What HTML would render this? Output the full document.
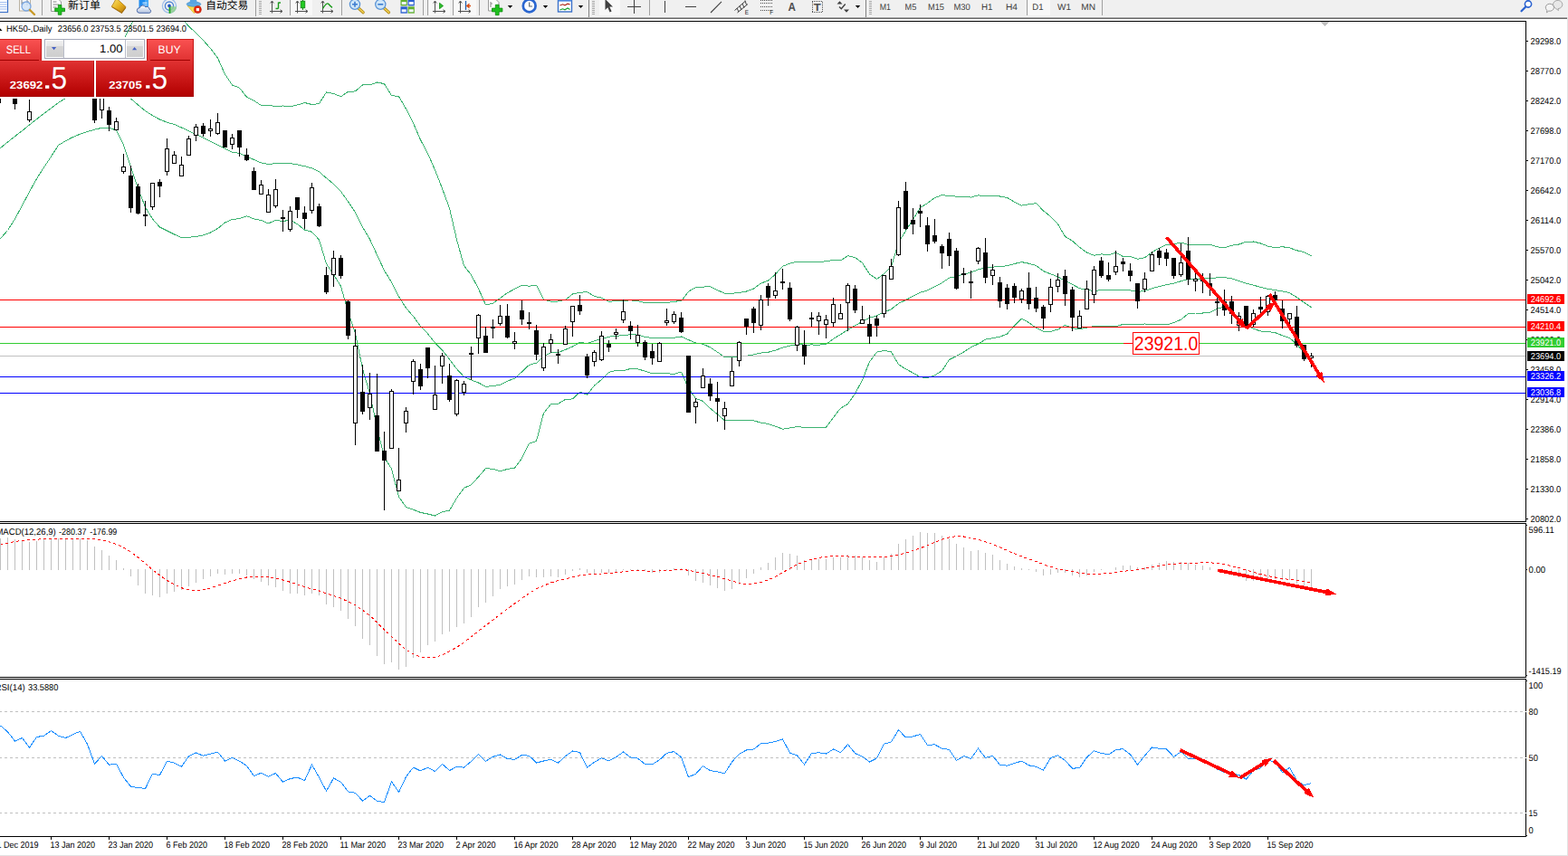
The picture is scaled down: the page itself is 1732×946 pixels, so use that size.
<!DOCTYPE html>
<html><head><meta charset="utf-8"><title>HK50-,Daily</title>
<style>
html,body{margin:0;padding:0;background:#fff;overflow:hidden}
body{width:1732px;height:946px;position:relative;font-family:"Liberation Sans",sans-serif}
svg text{font-family:"Liberation Sans",sans-serif}
</style></head><body>
<svg width="1732" height="946" viewBox="0 0 1732 946" style="position:absolute;left:0;top:0" font-family="Liberation Sans, sans-serif" text-rendering="geometricPrecision">
<defs>
<clipPath id="cm"><rect x="0" y="24" width="1685" height="552"/></clipPath>
<clipPath id="cd"><rect x="0" y="579" width="1685" height="169"/></clipPath>
<clipPath id="cr"><rect x="0" y="751" width="1685" height="173"/></clipPath>
</defs>
<g shape-rendering="crispEdges">
<g clip-path="url(#cm)">
<polyline points="0.5,63.0 8.5,60.0 16.5,58.0 24.5,60.0 32.5,62.0 40.5,64.0 48.5,66.0 56.5,66.0 64.5,66.0 72.5,62.0 80.5,58.0 88.5,55.0 96.5,53.0 104.5,54.0 112.5,56.0 120.5,58.0 128.5,58.0 136.5,44.5 144.5,28.0 152.5,12.0 160.5,5.0 168.5,3.0 176.5,3.0 184.5,5.0 192.5,8.0 200.5,20.0 208.5,29.0 216.5,36.5 224.5,44.5 232.5,53.5 240.5,64.0 248.5,82.0 256.5,94.0 264.5,97.1 272.5,107.2 280.5,111.1 288.5,116.5 296.5,116.2 304.5,117.7 312.5,117.0 320.5,117.7 328.5,116.0 336.5,113.5 344.5,115.5 352.5,114.6 360.5,102.0 368.5,103.4 376.5,106.8 384.5,101.4 392.5,100.9 400.5,93.9 408.5,93.8 416.5,91.0 424.5,92.6 432.5,105.6 440.5,106.6 448.5,120.3 456.5,135.9 464.5,154.6 472.5,169.6 480.5,187.8 488.5,208.4 496.5,230.0 504.5,264.9 512.5,293.5 520.5,303.9 528.5,319.0 536.5,336.9 544.5,335.3 552.5,329.4 560.5,323.7 568.5,319.3 576.5,315.3 584.5,316.2 592.5,315.1 600.5,331.1 608.5,333.2 616.5,333.0 624.5,331.4 632.5,325.0 640.5,323.4 648.5,322.6 656.5,327.4 664.5,329.2 672.5,333.1 680.5,332.9 688.5,332.2 696.5,331.9 704.5,332.5 712.5,334.6 720.5,334.4 728.5,334.4 736.5,334.6 744.5,333.2 752.5,332.7 760.5,322.1 768.5,317.7 776.5,317.1 784.5,316.6 792.5,320.6 800.5,324.3 808.5,324.3 816.5,323.4 824.5,322.0 832.5,319.0 840.5,313.1 848.5,310.2 856.5,303.1 864.5,294.2 872.5,291.2 880.5,289.2 888.5,289.8 896.5,289.7 904.5,289.9 912.5,288.6 920.5,287.5 928.5,288.0 936.5,282.6 944.5,284.6 952.5,290.5 960.5,302.9 968.5,308.4 976.5,302.7 984.5,294.7 992.5,268.0 1000.5,255.1 1008.5,242.7 1016.5,229.4 1024.5,224.5 1032.5,218.6 1040.5,215.5 1048.5,216.6 1056.5,217.1 1064.5,217.1 1072.5,218.1 1080.5,215.8 1088.5,216.7 1096.5,216.4 1104.5,217.0 1112.5,218.4 1120.5,223.2 1128.5,227.1 1136.5,225.7 1144.5,224.6 1152.5,232.9 1160.5,239.3 1168.5,247.7 1176.5,261.4 1184.5,266.2 1192.5,273.4 1200.5,279.1 1208.5,282.3 1216.5,280.9 1224.5,281.7 1232.5,279.3 1240.5,283.5 1248.5,283.4 1256.5,286.2 1264.5,284.8 1272.5,278.8 1280.5,274.2 1288.5,270.4 1296.5,269.8 1304.5,268.1 1312.5,270.3 1320.5,270.1 1328.5,270.1 1336.5,270.3 1344.5,272.7 1352.5,274.0 1360.5,271.3 1368.5,270.0 1376.5,267.3 1384.5,267.0 1392.5,269.0 1400.5,272.1 1408.5,273.7 1416.5,272.7 1424.5,273.9 1432.5,276.8 1440.5,278.6 1448.5,283.0" fill="none" stroke="#3cb371" stroke-width="1" />
<polyline points="0.5,163.5 8.5,157.0 16.5,150.7 24.5,144.5 32.5,138.0 40.5,131.7 48.5,125.5 56.5,119.5 64.5,113.5 72.5,108.5 80.5,104.0 88.5,101.0 96.5,99.0 104.5,99.0 112.5,99.0 120.5,100.0 128.5,101.0 136.5,104.5 144.5,109.0 152.5,116.0 160.5,122.5 168.5,127.7 176.5,132.0 184.5,135.2 192.5,137.5 200.5,141.0 208.5,144.7 216.5,148.5 224.5,152.2 232.5,156.2 240.5,160.2 248.5,164.2 256.5,168.2 264.5,169.3 272.5,172.9 280.5,176.5 288.5,180.0 296.5,181.6 304.5,180.5 312.5,180.8 320.5,180.5 328.5,181.9 336.5,183.7 344.5,185.9 352.5,189.8 360.5,196.8 368.5,203.4 376.5,211.6 384.5,222.8 392.5,234.8 400.5,250.8 408.5,264.4 416.5,281.7 424.5,299.0 432.5,311.8 440.5,327.8 448.5,340.4 456.5,349.6 464.5,360.5 472.5,368.8 480.5,378.9 488.5,387.0 496.5,397.0 504.5,407.7 512.5,416.4 520.5,419.9 528.5,423.0 536.5,427.2 544.5,426.8 552.5,425.1 560.5,421.1 568.5,418.2 576.5,410.9 584.5,403.3 592.5,401.2 600.5,393.9 608.5,389.9 616.5,389.6 624.5,386.4 632.5,383.0 640.5,378.4 648.5,379.4 656.5,376.8 664.5,374.3 672.5,372.3 680.5,371.1 688.5,370.9 696.5,369.7 704.5,370.1 712.5,372.4 720.5,373.5 728.5,373.6 736.5,373.7 744.5,373.2 752.5,372.0 760.5,375.6 768.5,379.0 776.5,380.2 784.5,383.9 792.5,389.2 800.5,394.6 808.5,394.4 816.5,393.8 824.5,393.3 832.5,391.9 840.5,390.1 848.5,389.3 856.5,387.1 864.5,384.2 872.5,382.1 880.5,380.4 888.5,381.1 896.5,381.0 904.5,381.1 912.5,380.4 920.5,374.5 928.5,369.6 936.5,364.5 944.5,359.8 952.5,355.3 960.5,351.3 968.5,348.8 976.5,345.1 984.5,341.7 992.5,335.4 1000.5,331.5 1008.5,327.4 1016.5,323.1 1024.5,321.0 1032.5,316.7 1040.5,312.6 1048.5,307.1 1056.5,305.4 1064.5,303.1 1072.5,301.0 1080.5,297.9 1088.5,295.9 1096.5,295.1 1104.5,294.6 1112.5,293.7 1120.5,291.5 1128.5,289.6 1136.5,291.2 1144.5,293.5 1152.5,299.6 1160.5,302.8 1168.5,305.9 1176.5,310.4 1184.5,314.4 1192.5,318.6 1200.5,320.6 1208.5,321.4 1216.5,320.7 1224.5,321.0 1232.5,320.1 1240.5,321.0 1248.5,320.9 1256.5,322.6 1264.5,321.4 1272.5,318.7 1280.5,316.5 1288.5,314.7 1296.5,313.2 1304.5,310.7 1312.5,308.5 1320.5,308.0 1328.5,308.1 1336.5,307.7 1344.5,306.9 1352.5,306.6 1360.5,307.9 1368.5,310.5 1376.5,313.3 1384.5,315.1 1392.5,317.5 1400.5,319.3 1408.5,320.6 1416.5,321.8 1424.5,323.7 1432.5,328.7 1440.5,334.3 1448.5,339.7" fill="none" stroke="#3cb371" stroke-width="1" />
<polyline points="0.5,263.7 8.5,254.5 16.5,242.0 24.5,227.0 32.5,212.0 40.5,197.5 48.5,185.0 56.5,173.0 64.5,160.5 72.5,155.7 80.5,151.5 88.5,148.2 96.5,145.5 104.5,143.2 112.5,141.3 120.5,141.3 128.5,144.0 136.5,160.0 144.5,184.5 152.5,208.0 160.5,229.0 168.5,242.0 176.5,251.0 184.5,255.0 192.5,259.0 200.5,262.5 208.5,262.3 216.5,261.5 224.5,260.0 232.5,257.0 240.5,252.5 248.5,246.0 256.5,242.5 264.5,241.6 272.5,238.7 280.5,242.0 288.5,243.5 296.5,246.9 304.5,243.4 312.5,244.5 320.5,243.2 328.5,247.8 336.5,254.0 344.5,256.3 352.5,265.0 360.5,291.5 368.5,303.4 376.5,316.4 384.5,344.1 392.5,368.7 400.5,407.6 408.5,434.9 416.5,472.4 424.5,505.4 432.5,518.0 440.5,549.0 448.5,560.4 456.5,563.2 464.5,566.4 472.5,568.0 480.5,570.0 488.5,565.7 496.5,564.1 504.5,550.4 512.5,539.4 520.5,535.8 528.5,527.0 536.5,517.6 544.5,518.3 552.5,520.9 560.5,518.4 568.5,517.1 576.5,506.4 584.5,490.3 592.5,487.4 600.5,456.7 608.5,446.7 616.5,446.2 624.5,441.4 632.5,440.9 640.5,433.3 648.5,436.2 656.5,426.1 664.5,419.4 672.5,411.4 680.5,409.3 688.5,409.6 696.5,407.5 704.5,407.8 712.5,410.2 720.5,412.7 728.5,412.8 736.5,412.8 744.5,413.3 752.5,411.2 760.5,429.1 768.5,440.4 776.5,443.4 784.5,451.2 792.5,457.8 800.5,464.9 808.5,464.5 816.5,464.3 824.5,464.6 832.5,464.9 840.5,467.1 848.5,468.4 856.5,471.1 864.5,474.2 872.5,473.0 880.5,471.5 888.5,472.4 896.5,472.4 904.5,472.4 912.5,472.3 920.5,461.4 928.5,451.1 936.5,446.5 944.5,435.0 952.5,420.0 960.5,399.7 968.5,389.1 976.5,387.4 984.5,388.8 992.5,402.8 1000.5,407.8 1008.5,412.1 1016.5,416.8 1024.5,417.5 1032.5,414.8 1040.5,409.8 1048.5,397.5 1056.5,393.6 1064.5,389.0 1072.5,383.9 1080.5,380.0 1088.5,375.1 1096.5,373.8 1104.5,372.2 1112.5,369.0 1120.5,359.9 1128.5,352.1 1136.5,356.6 1144.5,362.4 1152.5,366.3 1160.5,366.3 1168.5,364.2 1176.5,359.3 1184.5,362.6 1192.5,363.8 1200.5,362.1 1208.5,360.5 1216.5,360.4 1224.5,360.3 1232.5,360.9 1240.5,358.4 1248.5,358.4 1256.5,359.0 1264.5,358.0 1272.5,358.6 1280.5,358.8 1288.5,359.0 1296.5,356.6 1304.5,353.2 1312.5,346.7 1320.5,346.0 1328.5,346.0 1336.5,345.2 1344.5,341.1 1352.5,339.1 1360.5,344.4 1368.5,350.9 1376.5,359.3 1384.5,363.3 1392.5,366.0 1400.5,366.5 1408.5,367.6 1416.5,370.8 1424.5,373.4 1432.5,380.5 1440.5,390.0 1448.5,396.3" fill="none" stroke="#3cb371" stroke-width="1" />
<rect x="0" y="331" width="1685" height="1" fill="#ff0000"/>
<rect x="0" y="361" width="1685" height="1" fill="#ff0000"/>
<rect x="0" y="379" width="1685" height="1" fill="#32cd32"/>
<rect x="0" y="393" width="1685" height="1" fill="#c0c0c0"/>
<rect x="0" y="416" width="1685" height="1" fill="#0000ff"/>
<rect x="0" y="434" width="1685" height="1" fill="#0000ff"/>
<rect x="0" y="96" width="1" height="18" fill="#000"/>
<rect x="16" y="100" width="1" height="21" fill="#000"/>
<rect x="14" y="105" width="5" height="10" fill="#000"/>
<rect x="32" y="110" width="1" height="25" fill="#000"/>
<rect x="30" y="123" width="5" height="10" fill="#000"/>
<rect x="31" y="124" width="3" height="8" fill="#fff"/>
<rect x="104" y="96" width="1" height="40" fill="#000"/>
<rect x="102" y="100" width="5" height="33" fill="#000"/>
<rect x="112" y="100" width="1" height="31" fill="#000"/>
<rect x="110" y="104" width="5" height="18" fill="#000"/>
<rect x="111" y="105" width="3" height="16" fill="#fff"/>
<rect x="120" y="118" width="1" height="27" fill="#000"/>
<rect x="118" y="122" width="5" height="16" fill="#000"/>
<rect x="128" y="130" width="1" height="14" fill="#000"/>
<rect x="126" y="134" width="5" height="10" fill="#000"/>
<rect x="127" y="135" width="3" height="8" fill="#fff"/>
<rect x="136" y="170" width="1" height="22" fill="#000"/>
<rect x="134" y="184" width="5" height="6" fill="#000"/>
<rect x="135" y="185" width="3" height="4" fill="#fff"/>
<rect x="144" y="183" width="1" height="52" fill="#000"/>
<rect x="142" y="194" width="5" height="36" fill="#000"/>
<rect x="152" y="203" width="1" height="34" fill="#000"/>
<rect x="150" y="206" width="5" height="30" fill="#000"/>
<rect x="160" y="222" width="1" height="28" fill="#000"/>
<rect x="158" y="237" width="5" height="2" fill="#000"/>
<rect x="168" y="202" width="1" height="30" fill="#000"/>
<rect x="166" y="202" width="5" height="27" fill="#000"/>
<rect x="167" y="203" width="3" height="25" fill="#fff"/>
<rect x="176" y="198" width="1" height="20" fill="#000"/>
<rect x="174" y="201" width="5" height="5" fill="#000"/>
<rect x="184" y="153" width="1" height="41" fill="#000"/>
<rect x="182" y="164" width="5" height="26" fill="#000"/>
<rect x="183" y="165" width="3" height="24" fill="#fff"/>
<rect x="192" y="167" width="1" height="14" fill="#000"/>
<rect x="190" y="171" width="5" height="10" fill="#000"/>
<rect x="191" y="172" width="3" height="8" fill="#fff"/>
<rect x="200" y="173" width="1" height="21" fill="#000"/>
<rect x="198" y="182" width="5" height="13" fill="#000"/>
<rect x="199" y="183" width="3" height="11" fill="#fff"/>
<rect x="208" y="150" width="1" height="21" fill="#000"/>
<rect x="206" y="153" width="5" height="19" fill="#000"/>
<rect x="207" y="154" width="3" height="17" fill="#fff"/>
<rect x="216" y="137" width="1" height="19" fill="#000"/>
<rect x="214" y="140" width="5" height="10" fill="#000"/>
<rect x="215" y="141" width="3" height="8" fill="#fff"/>
<rect x="224" y="136" width="1" height="15" fill="#000"/>
<rect x="222" y="139" width="5" height="9" fill="#000"/>
<rect x="232" y="132" width="1" height="19" fill="#000"/>
<rect x="230" y="142" width="5" height="3" fill="#000"/>
<rect x="231" y="143" width="3" height="1" fill="#fff"/>
<rect x="240" y="125" width="1" height="24" fill="#000"/>
<rect x="238" y="135" width="5" height="13" fill="#000"/>
<rect x="239" y="136" width="3" height="11" fill="#fff"/>
<rect x="248" y="144" width="1" height="19" fill="#000"/>
<rect x="246" y="144" width="5" height="19" fill="#000"/>
<rect x="256" y="148" width="1" height="17" fill="#000"/>
<rect x="254" y="152" width="5" height="8" fill="#000"/>
<rect x="255" y="153" width="3" height="6" fill="#fff"/>
<rect x="264" y="144" width="1" height="29" fill="#000"/>
<rect x="262" y="144" width="5" height="19" fill="#000"/>
<rect x="272" y="164" width="1" height="14" fill="#000"/>
<rect x="270" y="171" width="5" height="6" fill="#000"/>
<rect x="280" y="185" width="1" height="25" fill="#000"/>
<rect x="278" y="189" width="5" height="21" fill="#000"/>
<rect x="288" y="199" width="1" height="15" fill="#000"/>
<rect x="286" y="204" width="5" height="11" fill="#000"/>
<rect x="287" y="205" width="3" height="9" fill="#fff"/>
<rect x="296" y="209" width="1" height="25" fill="#000"/>
<rect x="294" y="215" width="5" height="20" fill="#000"/>
<rect x="295" y="216" width="3" height="18" fill="#fff"/>
<rect x="304" y="198" width="1" height="32" fill="#000"/>
<rect x="302" y="209" width="5" height="19" fill="#000"/>
<rect x="303" y="210" width="3" height="17" fill="#fff"/>
<rect x="312" y="232" width="1" height="24" fill="#000"/>
<rect x="310" y="240" width="5" height="2" fill="#000"/>
<rect x="320" y="228" width="1" height="28" fill="#000"/>
<rect x="318" y="233" width="5" height="21" fill="#000"/>
<rect x="319" y="234" width="3" height="19" fill="#fff"/>
<rect x="328" y="218" width="1" height="23" fill="#000"/>
<rect x="326" y="218" width="5" height="14" fill="#000"/>
<rect x="336" y="228" width="1" height="25" fill="#000"/>
<rect x="334" y="235" width="5" height="7" fill="#000"/>
<rect x="344" y="202" width="1" height="34" fill="#000"/>
<rect x="342" y="207" width="5" height="26" fill="#000"/>
<rect x="343" y="208" width="3" height="24" fill="#fff"/>
<rect x="352" y="225" width="1" height="26" fill="#000"/>
<rect x="350" y="228" width="5" height="22" fill="#000"/>
<rect x="360" y="295" width="1" height="30" fill="#000"/>
<rect x="358" y="304" width="5" height="19" fill="#000"/>
<rect x="368" y="277" width="1" height="40" fill="#000"/>
<rect x="366" y="285" width="5" height="19" fill="#000"/>
<rect x="367" y="286" width="3" height="17" fill="#fff"/>
<rect x="376" y="282" width="1" height="26" fill="#000"/>
<rect x="374" y="285" width="5" height="20" fill="#000"/>
<rect x="384" y="332" width="1" height="43" fill="#000"/>
<rect x="382" y="333" width="5" height="38" fill="#000"/>
<rect x="392" y="364" width="1" height="128" fill="#000"/>
<rect x="390" y="382" width="5" height="86" fill="#000"/>
<rect x="391" y="383" width="3" height="84" fill="#fff"/>
<rect x="400" y="403" width="1" height="55" fill="#000"/>
<rect x="398" y="433" width="5" height="22" fill="#000"/>
<rect x="408" y="412" width="1" height="52" fill="#000"/>
<rect x="406" y="435" width="5" height="16" fill="#000"/>
<rect x="407" y="436" width="3" height="14" fill="#fff"/>
<rect x="416" y="413" width="1" height="86" fill="#000"/>
<rect x="414" y="459" width="5" height="40" fill="#000"/>
<rect x="424" y="477" width="1" height="87" fill="#000"/>
<rect x="422" y="498" width="5" height="11" fill="#000"/>
<rect x="432" y="430" width="1" height="66" fill="#000"/>
<rect x="430" y="432" width="5" height="64" fill="#000"/>
<rect x="431" y="433" width="3" height="62" fill="#fff"/>
<rect x="440" y="495" width="1" height="48" fill="#000"/>
<rect x="438" y="530" width="5" height="13" fill="#000"/>
<rect x="439" y="531" width="3" height="11" fill="#fff"/>
<rect x="448" y="450" width="1" height="28" fill="#000"/>
<rect x="446" y="454" width="5" height="14" fill="#000"/>
<rect x="447" y="455" width="3" height="12" fill="#fff"/>
<rect x="456" y="397" width="1" height="39" fill="#000"/>
<rect x="454" y="399" width="5" height="23" fill="#000"/>
<rect x="455" y="400" width="3" height="21" fill="#fff"/>
<rect x="464" y="402" width="1" height="29" fill="#000"/>
<rect x="462" y="408" width="5" height="19" fill="#000"/>
<rect x="472" y="384" width="1" height="34" fill="#000"/>
<rect x="470" y="384" width="5" height="23" fill="#000"/>
<rect x="480" y="404" width="1" height="49" fill="#000"/>
<rect x="478" y="436" width="5" height="17" fill="#000"/>
<rect x="479" y="437" width="3" height="15" fill="#fff"/>
<rect x="488" y="390" width="1" height="34" fill="#000"/>
<rect x="486" y="393" width="5" height="12" fill="#000"/>
<rect x="487" y="394" width="3" height="10" fill="#fff"/>
<rect x="496" y="402" width="1" height="42" fill="#000"/>
<rect x="494" y="415" width="5" height="27" fill="#000"/>
<rect x="504" y="419" width="1" height="41" fill="#000"/>
<rect x="502" y="420" width="5" height="38" fill="#000"/>
<rect x="503" y="421" width="3" height="36" fill="#fff"/>
<rect x="512" y="421" width="1" height="16" fill="#000"/>
<rect x="510" y="424" width="5" height="10" fill="#000"/>
<rect x="511" y="425" width="3" height="8" fill="#fff"/>
<rect x="520" y="383" width="1" height="37" fill="#000"/>
<rect x="518" y="390" width="5" height="2" fill="#000"/>
<rect x="528" y="347" width="1" height="44" fill="#000"/>
<rect x="526" y="348" width="5" height="26" fill="#000"/>
<rect x="527" y="349" width="3" height="24" fill="#fff"/>
<rect x="536" y="361" width="1" height="29" fill="#000"/>
<rect x="534" y="371" width="5" height="19" fill="#000"/>
<rect x="544" y="353" width="1" height="21" fill="#000"/>
<rect x="542" y="361" width="5" height="2" fill="#000"/>
<rect x="552" y="337" width="1" height="23" fill="#000"/>
<rect x="550" y="349" width="5" height="9" fill="#000"/>
<rect x="551" y="350" width="3" height="7" fill="#fff"/>
<rect x="560" y="336" width="1" height="38" fill="#000"/>
<rect x="558" y="349" width="5" height="24" fill="#000"/>
<rect x="568" y="367" width="1" height="19" fill="#000"/>
<rect x="566" y="377" width="5" height="3" fill="#000"/>
<rect x="567" y="378" width="3" height="1" fill="#fff"/>
<rect x="576" y="332" width="1" height="27" fill="#000"/>
<rect x="574" y="343" width="5" height="10" fill="#000"/>
<rect x="584" y="345" width="1" height="19" fill="#000"/>
<rect x="582" y="356" width="5" height="2" fill="#000"/>
<rect x="592" y="359" width="1" height="39" fill="#000"/>
<rect x="590" y="365" width="5" height="27" fill="#000"/>
<rect x="600" y="379" width="1" height="31" fill="#000"/>
<rect x="598" y="383" width="5" height="24" fill="#000"/>
<rect x="599" y="384" width="3" height="22" fill="#fff"/>
<rect x="608" y="369" width="1" height="21" fill="#000"/>
<rect x="606" y="375" width="5" height="5" fill="#000"/>
<rect x="607" y="376" width="3" height="3" fill="#fff"/>
<rect x="616" y="386" width="1" height="16" fill="#000"/>
<rect x="614" y="391" width="5" height="2" fill="#000"/>
<rect x="624" y="360" width="1" height="21" fill="#000"/>
<rect x="622" y="363" width="5" height="18" fill="#000"/>
<rect x="623" y="364" width="3" height="16" fill="#fff"/>
<rect x="632" y="338" width="1" height="34" fill="#000"/>
<rect x="630" y="338" width="5" height="18" fill="#000"/>
<rect x="631" y="339" width="3" height="16" fill="#fff"/>
<rect x="640" y="326" width="1" height="22" fill="#000"/>
<rect x="638" y="337" width="5" height="7" fill="#000"/>
<rect x="648" y="391" width="1" height="27" fill="#000"/>
<rect x="646" y="394" width="5" height="21" fill="#000"/>
<rect x="656" y="387" width="1" height="18" fill="#000"/>
<rect x="654" y="389" width="5" height="11" fill="#000"/>
<rect x="655" y="390" width="3" height="9" fill="#fff"/>
<rect x="664" y="366" width="1" height="33" fill="#000"/>
<rect x="662" y="371" width="5" height="27" fill="#000"/>
<rect x="663" y="372" width="3" height="25" fill="#fff"/>
<rect x="672" y="376" width="1" height="13" fill="#000"/>
<rect x="670" y="380" width="5" height="4" fill="#000"/>
<rect x="680" y="363" width="1" height="12" fill="#000"/>
<rect x="678" y="367" width="5" height="3" fill="#000"/>
<rect x="679" y="368" width="3" height="1" fill="#fff"/>
<rect x="688" y="331" width="1" height="26" fill="#000"/>
<rect x="686" y="344" width="5" height="10" fill="#000"/>
<rect x="687" y="345" width="3" height="8" fill="#fff"/>
<rect x="696" y="355" width="1" height="20" fill="#000"/>
<rect x="694" y="360" width="5" height="6" fill="#000"/>
<rect x="704" y="359" width="1" height="24" fill="#000"/>
<rect x="702" y="370" width="5" height="9" fill="#000"/>
<rect x="703" y="371" width="3" height="7" fill="#fff"/>
<rect x="712" y="376" width="1" height="22" fill="#000"/>
<rect x="710" y="378" width="5" height="17" fill="#000"/>
<rect x="720" y="380" width="1" height="23" fill="#000"/>
<rect x="718" y="388" width="5" height="8" fill="#000"/>
<rect x="728" y="378" width="1" height="21" fill="#000"/>
<rect x="726" y="379" width="5" height="21" fill="#000"/>
<rect x="727" y="380" width="3" height="19" fill="#fff"/>
<rect x="736" y="341" width="1" height="19" fill="#000"/>
<rect x="734" y="354" width="5" height="3" fill="#000"/>
<rect x="735" y="355" width="3" height="1" fill="#fff"/>
<rect x="744" y="344" width="1" height="14" fill="#000"/>
<rect x="742" y="347" width="5" height="9" fill="#000"/>
<rect x="743" y="348" width="3" height="7" fill="#fff"/>
<rect x="752" y="345" width="1" height="23" fill="#000"/>
<rect x="750" y="351" width="5" height="16" fill="#000"/>
<rect x="760" y="393" width="1" height="63" fill="#000"/>
<rect x="758" y="393" width="5" height="63" fill="#000"/>
<rect x="768" y="440" width="1" height="28" fill="#000"/>
<rect x="766" y="444" width="5" height="6" fill="#000"/>
<rect x="767" y="445" width="3" height="4" fill="#fff"/>
<rect x="776" y="407" width="1" height="21" fill="#000"/>
<rect x="774" y="415" width="5" height="14" fill="#000"/>
<rect x="775" y="416" width="3" height="12" fill="#fff"/>
<rect x="784" y="418" width="1" height="25" fill="#000"/>
<rect x="782" y="424" width="5" height="14" fill="#000"/>
<rect x="792" y="422" width="1" height="44" fill="#000"/>
<rect x="790" y="440" width="5" height="4" fill="#000"/>
<rect x="800" y="444" width="1" height="31" fill="#000"/>
<rect x="798" y="451" width="5" height="9" fill="#000"/>
<rect x="799" y="452" width="3" height="7" fill="#fff"/>
<rect x="808" y="395" width="1" height="31" fill="#000"/>
<rect x="806" y="410" width="5" height="17" fill="#000"/>
<rect x="807" y="411" width="3" height="15" fill="#fff"/>
<rect x="816" y="377" width="1" height="28" fill="#000"/>
<rect x="814" y="378" width="5" height="21" fill="#000"/>
<rect x="815" y="379" width="3" height="19" fill="#fff"/>
<rect x="824" y="352" width="1" height="18" fill="#000"/>
<rect x="822" y="352" width="5" height="9" fill="#000"/>
<rect x="832" y="339" width="1" height="29" fill="#000"/>
<rect x="830" y="341" width="5" height="16" fill="#000"/>
<rect x="840" y="326" width="1" height="39" fill="#000"/>
<rect x="838" y="331" width="5" height="29" fill="#000"/>
<rect x="839" y="332" width="3" height="27" fill="#fff"/>
<rect x="848" y="313" width="1" height="25" fill="#000"/>
<rect x="846" y="316" width="5" height="13" fill="#000"/>
<rect x="856" y="301" width="1" height="29" fill="#000"/>
<rect x="854" y="321" width="5" height="6" fill="#000"/>
<rect x="855" y="322" width="3" height="4" fill="#fff"/>
<rect x="864" y="297" width="1" height="23" fill="#000"/>
<rect x="862" y="311" width="5" height="2" fill="#000"/>
<rect x="872" y="312" width="1" height="43" fill="#000"/>
<rect x="870" y="318" width="5" height="35" fill="#000"/>
<rect x="880" y="360" width="1" height="28" fill="#000"/>
<rect x="878" y="361" width="5" height="21" fill="#000"/>
<rect x="879" y="362" width="3" height="19" fill="#fff"/>
<rect x="888" y="365" width="1" height="38" fill="#000"/>
<rect x="886" y="381" width="5" height="13" fill="#000"/>
<rect x="896" y="345" width="1" height="16" fill="#000"/>
<rect x="894" y="351" width="5" height="2" fill="#000"/>
<rect x="904" y="345" width="1" height="25" fill="#000"/>
<rect x="902" y="349" width="5" height="6" fill="#000"/>
<rect x="903" y="350" width="3" height="4" fill="#fff"/>
<rect x="912" y="348" width="1" height="26" fill="#000"/>
<rect x="910" y="353" width="5" height="6" fill="#000"/>
<rect x="911" y="354" width="3" height="4" fill="#fff"/>
<rect x="920" y="329" width="1" height="32" fill="#000"/>
<rect x="918" y="336" width="5" height="21" fill="#000"/>
<rect x="919" y="337" width="3" height="19" fill="#fff"/>
<rect x="928" y="336" width="1" height="17" fill="#000"/>
<rect x="926" y="346" width="5" height="7" fill="#000"/>
<rect x="927" y="347" width="3" height="5" fill="#fff"/>
<rect x="936" y="313" width="1" height="53" fill="#000"/>
<rect x="934" y="315" width="5" height="20" fill="#000"/>
<rect x="935" y="316" width="3" height="18" fill="#fff"/>
<rect x="944" y="315" width="1" height="31" fill="#000"/>
<rect x="942" y="319" width="5" height="24" fill="#000"/>
<rect x="952" y="338" width="1" height="20" fill="#000"/>
<rect x="950" y="353" width="5" height="5" fill="#000"/>
<rect x="951" y="354" width="3" height="3" fill="#fff"/>
<rect x="960" y="348" width="1" height="32" fill="#000"/>
<rect x="958" y="358" width="5" height="14" fill="#000"/>
<rect x="968" y="349" width="1" height="23" fill="#000"/>
<rect x="966" y="352" width="5" height="8" fill="#000"/>
<rect x="976" y="304" width="1" height="47" fill="#000"/>
<rect x="974" y="304" width="5" height="43" fill="#000"/>
<rect x="975" y="305" width="3" height="41" fill="#fff"/>
<rect x="984" y="286" width="1" height="22" fill="#000"/>
<rect x="982" y="294" width="5" height="15" fill="#000"/>
<rect x="983" y="295" width="3" height="13" fill="#fff"/>
<rect x="992" y="222" width="1" height="61" fill="#000"/>
<rect x="990" y="229" width="5" height="53" fill="#000"/>
<rect x="991" y="230" width="3" height="51" fill="#fff"/>
<rect x="1000" y="201" width="1" height="53" fill="#000"/>
<rect x="998" y="211" width="5" height="42" fill="#000"/>
<rect x="1008" y="230" width="1" height="29" fill="#000"/>
<rect x="1006" y="243" width="5" height="5" fill="#000"/>
<rect x="1016" y="226" width="1" height="25" fill="#000"/>
<rect x="1014" y="233" width="5" height="3" fill="#000"/>
<rect x="1024" y="240" width="1" height="38" fill="#000"/>
<rect x="1022" y="249" width="5" height="21" fill="#000"/>
<rect x="1032" y="242" width="1" height="27" fill="#000"/>
<rect x="1030" y="260" width="5" height="7" fill="#000"/>
<rect x="1040" y="270" width="1" height="27" fill="#000"/>
<rect x="1038" y="272" width="5" height="8" fill="#000"/>
<rect x="1048" y="257" width="1" height="37" fill="#000"/>
<rect x="1046" y="264" width="5" height="19" fill="#000"/>
<rect x="1056" y="274" width="1" height="46" fill="#000"/>
<rect x="1054" y="277" width="5" height="42" fill="#000"/>
<rect x="1064" y="296" width="1" height="17" fill="#000"/>
<rect x="1062" y="302" width="5" height="2" fill="#000"/>
<rect x="1072" y="299" width="1" height="31" fill="#000"/>
<rect x="1070" y="311" width="5" height="2" fill="#000"/>
<rect x="1080" y="273" width="1" height="19" fill="#000"/>
<rect x="1078" y="274" width="5" height="15" fill="#000"/>
<rect x="1079" y="275" width="3" height="13" fill="#fff"/>
<rect x="1088" y="263" width="1" height="50" fill="#000"/>
<rect x="1086" y="279" width="5" height="28" fill="#000"/>
<rect x="1096" y="292" width="1" height="23" fill="#000"/>
<rect x="1094" y="298" width="5" height="7" fill="#000"/>
<rect x="1095" y="299" width="3" height="5" fill="#fff"/>
<rect x="1104" y="306" width="1" height="34" fill="#000"/>
<rect x="1102" y="312" width="5" height="21" fill="#000"/>
<rect x="1112" y="314" width="1" height="28" fill="#000"/>
<rect x="1110" y="318" width="5" height="18" fill="#000"/>
<rect x="1120" y="313" width="1" height="22" fill="#000"/>
<rect x="1118" y="316" width="5" height="13" fill="#000"/>
<rect x="1128" y="319" width="1" height="16" fill="#000"/>
<rect x="1126" y="321" width="5" height="10" fill="#000"/>
<rect x="1127" y="322" width="3" height="8" fill="#fff"/>
<rect x="1136" y="301" width="1" height="41" fill="#000"/>
<rect x="1134" y="318" width="5" height="18" fill="#000"/>
<rect x="1144" y="317" width="1" height="28" fill="#000"/>
<rect x="1142" y="329" width="5" height="12" fill="#000"/>
<rect x="1152" y="337" width="1" height="27" fill="#000"/>
<rect x="1150" y="339" width="5" height="13" fill="#000"/>
<rect x="1160" y="308" width="1" height="37" fill="#000"/>
<rect x="1158" y="317" width="5" height="20" fill="#000"/>
<rect x="1159" y="318" width="3" height="18" fill="#fff"/>
<rect x="1168" y="302" width="1" height="21" fill="#000"/>
<rect x="1166" y="309" width="5" height="8" fill="#000"/>
<rect x="1167" y="310" width="3" height="6" fill="#fff"/>
<rect x="1176" y="298" width="1" height="40" fill="#000"/>
<rect x="1174" y="305" width="5" height="20" fill="#000"/>
<rect x="1184" y="317" width="1" height="49" fill="#000"/>
<rect x="1182" y="320" width="5" height="31" fill="#000"/>
<rect x="1192" y="343" width="1" height="20" fill="#000"/>
<rect x="1190" y="349" width="5" height="14" fill="#000"/>
<rect x="1191" y="350" width="3" height="12" fill="#fff"/>
<rect x="1200" y="310" width="1" height="31" fill="#000"/>
<rect x="1198" y="319" width="5" height="23" fill="#000"/>
<rect x="1199" y="320" width="3" height="21" fill="#fff"/>
<rect x="1208" y="294" width="1" height="41" fill="#000"/>
<rect x="1206" y="298" width="5" height="28" fill="#000"/>
<rect x="1207" y="299" width="3" height="26" fill="#fff"/>
<rect x="1216" y="284" width="1" height="23" fill="#000"/>
<rect x="1214" y="288" width="5" height="17" fill="#000"/>
<rect x="1224" y="290" width="1" height="21" fill="#000"/>
<rect x="1222" y="304" width="5" height="5" fill="#000"/>
<rect x="1232" y="277" width="1" height="27" fill="#000"/>
<rect x="1230" y="294" width="5" height="7" fill="#000"/>
<rect x="1231" y="295" width="3" height="5" fill="#fff"/>
<rect x="1240" y="285" width="1" height="15" fill="#000"/>
<rect x="1238" y="289" width="5" height="3" fill="#000"/>
<rect x="1248" y="291" width="1" height="20" fill="#000"/>
<rect x="1246" y="299" width="5" height="6" fill="#000"/>
<rect x="1256" y="313" width="1" height="28" fill="#000"/>
<rect x="1254" y="313" width="5" height="20" fill="#000"/>
<rect x="1264" y="301" width="1" height="22" fill="#000"/>
<rect x="1262" y="308" width="5" height="12" fill="#000"/>
<rect x="1263" y="309" width="3" height="10" fill="#fff"/>
<rect x="1272" y="278" width="1" height="22" fill="#000"/>
<rect x="1270" y="281" width="5" height="19" fill="#000"/>
<rect x="1271" y="282" width="3" height="17" fill="#fff"/>
<rect x="1280" y="274" width="1" height="19" fill="#000"/>
<rect x="1278" y="277" width="5" height="8" fill="#000"/>
<rect x="1288" y="275" width="1" height="19" fill="#000"/>
<rect x="1286" y="279" width="5" height="7" fill="#000"/>
<rect x="1296" y="285" width="1" height="23" fill="#000"/>
<rect x="1294" y="285" width="5" height="20" fill="#000"/>
<rect x="1304" y="269" width="1" height="37" fill="#000"/>
<rect x="1302" y="290" width="5" height="14" fill="#000"/>
<rect x="1303" y="291" width="3" height="12" fill="#fff"/>
<rect x="1312" y="262" width="1" height="53" fill="#000"/>
<rect x="1310" y="277" width="5" height="32" fill="#000"/>
<rect x="1320" y="301" width="1" height="21" fill="#000"/>
<rect x="1318" y="308" width="5" height="3" fill="#000"/>
<rect x="1319" y="309" width="3" height="1" fill="#fff"/>
<rect x="1328" y="302" width="1" height="22" fill="#000"/>
<rect x="1326" y="309" width="5" height="2" fill="#000"/>
<rect x="1336" y="302" width="1" height="25" fill="#000"/>
<rect x="1334" y="313" width="5" height="5" fill="#000"/>
<rect x="1344" y="327" width="1" height="22" fill="#000"/>
<rect x="1342" y="333" width="5" height="2" fill="#000"/>
<rect x="1352" y="320" width="1" height="29" fill="#000"/>
<rect x="1350" y="333" width="5" height="10" fill="#000"/>
<rect x="1360" y="327" width="1" height="31" fill="#000"/>
<rect x="1358" y="333" width="5" height="14" fill="#000"/>
<rect x="1368" y="345" width="1" height="21" fill="#000"/>
<rect x="1366" y="349" width="5" height="11" fill="#000"/>
<rect x="1367" y="350" width="3" height="9" fill="#fff"/>
<rect x="1376" y="338" width="1" height="25" fill="#000"/>
<rect x="1374" y="338" width="5" height="24" fill="#000"/>
<rect x="1384" y="342" width="1" height="19" fill="#000"/>
<rect x="1382" y="346" width="5" height="13" fill="#000"/>
<rect x="1383" y="347" width="3" height="11" fill="#fff"/>
<rect x="1392" y="328" width="1" height="20" fill="#000"/>
<rect x="1390" y="339" width="5" height="3" fill="#000"/>
<rect x="1400" y="326" width="1" height="23" fill="#000"/>
<rect x="1398" y="327" width="5" height="18" fill="#000"/>
<rect x="1399" y="328" width="3" height="16" fill="#fff"/>
<rect x="1408" y="322" width="1" height="11" fill="#000"/>
<rect x="1406" y="326" width="5" height="6" fill="#000"/>
<rect x="1416" y="332" width="1" height="31" fill="#000"/>
<rect x="1414" y="341" width="5" height="14" fill="#000"/>
<rect x="1424" y="346" width="1" height="12" fill="#000"/>
<rect x="1422" y="346" width="5" height="7" fill="#000"/>
<rect x="1423" y="347" width="3" height="5" fill="#fff"/>
<rect x="1432" y="338" width="1" height="46" fill="#000"/>
<rect x="1430" y="350" width="5" height="32" fill="#000"/>
<rect x="1440" y="381" width="1" height="18" fill="#000"/>
<rect x="1438" y="381" width="5" height="16" fill="#000"/>
<rect x="1448" y="390" width="1" height="16" fill="#000"/>
<rect x="1446" y="393" width="5" height="3" fill="#000"/>
<rect x="1447" y="394" width="3" height="1" fill="#fff"/>
</g>
<rect x="1459" y="24" width="9" height="1" fill="#c0c0c0"/>
<rect x="1460" y="25" width="7" height="1" fill="#c0c0c0"/>
<rect x="1461" y="26" width="5" height="1" fill="#c0c0c0"/>
<rect x="1462" y="27" width="3" height="1" fill="#c0c0c0"/>
<rect x="1463" y="28" width="1" height="1" fill="#c0c0c0"/>
<rect x="0" y="23" width="1686" height="1" fill="#000"/>
<rect x="1685" y="23" width="1" height="554" fill="#000"/>
<rect x="0" y="576" width="1686" height="1" fill="#000"/>
<rect x="0" y="578" width="1686" height="1" fill="#000"/>
<rect x="1685" y="578" width="1" height="171" fill="#000"/>
<rect x="0" y="748" width="1686" height="1" fill="#000"/>
<rect x="0" y="750" width="1686" height="1" fill="#000"/>
<rect x="1685" y="750" width="1" height="175" fill="#000"/>
<rect x="0" y="924" width="1686" height="1" fill="#000"/>
</g>
<g shape-rendering="crispEdges">
<rect x="1686" y="45" width="2" height="1" fill="#000"/>
<rect x="1686" y="78" width="2" height="1" fill="#000"/>
<rect x="1686" y="111" width="2" height="1" fill="#000"/>
<rect x="1686" y="144" width="2" height="1" fill="#000"/>
<rect x="1686" y="177" width="2" height="1" fill="#000"/>
<rect x="1686" y="210" width="2" height="1" fill="#000"/>
<rect x="1686" y="243" width="2" height="1" fill="#000"/>
<rect x="1686" y="276" width="2" height="1" fill="#000"/>
<rect x="1686" y="309" width="2" height="1" fill="#000"/>
<rect x="1686" y="342" width="2" height="1" fill="#000"/>
<rect x="1686" y="375" width="2" height="1" fill="#000"/>
<rect x="1686" y="408" width="2" height="1" fill="#000"/>
<rect x="1686" y="441" width="2" height="1" fill="#000"/>
<rect x="1686" y="474" width="2" height="1" fill="#000"/>
<rect x="1686" y="507" width="2" height="1" fill="#000"/>
<rect x="1686" y="540" width="2" height="1" fill="#000"/>
<rect x="1686" y="573" width="2" height="1" fill="#000"/>
</g>
<text x="1690.6" y="49" font-size="10" fill="#000" text-anchor="start" font-weight="normal" textLength="33.6" lengthAdjust="spacingAndGlyphs">29298.0</text>
<text x="1690.6" y="82" font-size="10" fill="#000" text-anchor="start" font-weight="normal" textLength="33.6" lengthAdjust="spacingAndGlyphs">28770.0</text>
<text x="1690.6" y="115" font-size="10" fill="#000" text-anchor="start" font-weight="normal" textLength="33.6" lengthAdjust="spacingAndGlyphs">28242.0</text>
<text x="1690.6" y="148" font-size="10" fill="#000" text-anchor="start" font-weight="normal" textLength="33.6" lengthAdjust="spacingAndGlyphs">27698.0</text>
<text x="1690.6" y="181" font-size="10" fill="#000" text-anchor="start" font-weight="normal" textLength="33.6" lengthAdjust="spacingAndGlyphs">27170.0</text>
<text x="1690.6" y="214" font-size="10" fill="#000" text-anchor="start" font-weight="normal" textLength="33.6" lengthAdjust="spacingAndGlyphs">26642.0</text>
<text x="1690.6" y="247" font-size="10" fill="#000" text-anchor="start" font-weight="normal" textLength="33.6" lengthAdjust="spacingAndGlyphs">26114.0</text>
<text x="1690.6" y="280" font-size="10" fill="#000" text-anchor="start" font-weight="normal" textLength="33.6" lengthAdjust="spacingAndGlyphs">25570.0</text>
<text x="1690.6" y="313" font-size="10" fill="#000" text-anchor="start" font-weight="normal" textLength="33.6" lengthAdjust="spacingAndGlyphs">25042.0</text>
<text x="1690.6" y="346" font-size="10" fill="#000" text-anchor="start" font-weight="normal" textLength="33.6" lengthAdjust="spacingAndGlyphs">24514.0</text>
<text x="1690.6" y="379" font-size="10" fill="#000" text-anchor="start" font-weight="normal" textLength="33.6" lengthAdjust="spacingAndGlyphs">23986.0</text>
<text x="1690.6" y="412" font-size="10" fill="#000" text-anchor="start" font-weight="normal" textLength="33.6" lengthAdjust="spacingAndGlyphs">23458.0</text>
<text x="1690.6" y="445" font-size="10" fill="#000" text-anchor="start" font-weight="normal" textLength="33.6" lengthAdjust="spacingAndGlyphs">22914.0</text>
<text x="1690.6" y="478" font-size="10" fill="#000" text-anchor="start" font-weight="normal" textLength="33.6" lengthAdjust="spacingAndGlyphs">22386.0</text>
<text x="1690.6" y="511" font-size="10" fill="#000" text-anchor="start" font-weight="normal" textLength="33.6" lengthAdjust="spacingAndGlyphs">21858.0</text>
<text x="1690.6" y="544" font-size="10" fill="#000" text-anchor="start" font-weight="normal" textLength="33.6" lengthAdjust="spacingAndGlyphs">21330.0</text>
<text x="1690.6" y="577" font-size="10" fill="#000" text-anchor="start" font-weight="normal" textLength="33.6" lengthAdjust="spacingAndGlyphs">20802.0</text>
<rect x="1687" y="325" width="41" height="11" fill="#ff0000" shape-rendering="crispEdges"/>
<text x="1690.8" y="334" font-size="10" fill="#fff" text-anchor="start" font-weight="normal" textLength="33.4" lengthAdjust="spacingAndGlyphs">24692.6</text>
<rect x="1687" y="355" width="41" height="11" fill="#ff0000" shape-rendering="crispEdges"/>
<text x="1690.8" y="364" font-size="10" fill="#fff" text-anchor="start" font-weight="normal" textLength="33.4" lengthAdjust="spacingAndGlyphs">24210.4</text>
<rect x="1687" y="373" width="41" height="11" fill="#32cd32" shape-rendering="crispEdges"/>
<text x="1690.8" y="382" font-size="10" fill="#fff" text-anchor="start" font-weight="normal" textLength="33.4" lengthAdjust="spacingAndGlyphs">23921.0</text>
<rect x="1687" y="388" width="41" height="11" fill="#000000" shape-rendering="crispEdges"/>
<text x="1690.8" y="397" font-size="10" fill="#fff" text-anchor="start" font-weight="normal" textLength="33.4" lengthAdjust="spacingAndGlyphs">23694.0</text>
<rect x="1687" y="410" width="41" height="11" fill="#0000ff" shape-rendering="crispEdges"/>
<text x="1690.8" y="419" font-size="10" fill="#fff" text-anchor="start" font-weight="normal" textLength="33.4" lengthAdjust="spacingAndGlyphs">23326.2</text>
<rect x="1687" y="428" width="41" height="11" fill="#0000ff" shape-rendering="crispEdges"/>
<text x="1690.8" y="437" font-size="10" fill="#fff" text-anchor="start" font-weight="normal" textLength="33.4" lengthAdjust="spacingAndGlyphs">23036.8</text>
<g shape-rendering="crispEdges">
<g clip-path="url(#cd)">
<rect x="0" y="595" width="1" height="35" fill="#c0c0c0"/>
<rect x="8" y="594" width="1" height="36" fill="#c0c0c0"/>
<rect x="16" y="596" width="1" height="34" fill="#c0c0c0"/>
<rect x="24" y="597" width="1" height="33" fill="#c0c0c0"/>
<rect x="32" y="599" width="1" height="31" fill="#c0c0c0"/>
<rect x="40" y="598" width="1" height="32" fill="#c0c0c0"/>
<rect x="48" y="596" width="1" height="34" fill="#c0c0c0"/>
<rect x="56" y="595" width="1" height="35" fill="#c0c0c0"/>
<rect x="64" y="595" width="1" height="35" fill="#c0c0c0"/>
<rect x="72" y="595" width="1" height="35" fill="#c0c0c0"/>
<rect x="80" y="595" width="1" height="35" fill="#c0c0c0"/>
<rect x="88" y="595" width="1" height="35" fill="#c0c0c0"/>
<rect x="96" y="597" width="1" height="33" fill="#c0c0c0"/>
<rect x="104" y="604" width="1" height="26" fill="#c0c0c0"/>
<rect x="112" y="608" width="1" height="22" fill="#c0c0c0"/>
<rect x="120" y="614" width="1" height="16" fill="#c0c0c0"/>
<rect x="128" y="619" width="1" height="11" fill="#c0c0c0"/>
<rect x="136" y="628" width="1" height="2" fill="#c0c0c0"/>
<rect x="144" y="629" width="1" height="8" fill="#c0c0c0"/>
<rect x="152" y="629" width="1" height="18" fill="#c0c0c0"/>
<rect x="160" y="629" width="1" height="27" fill="#c0c0c0"/>
<rect x="168" y="629" width="1" height="29" fill="#c0c0c0"/>
<rect x="176" y="629" width="1" height="31" fill="#c0c0c0"/>
<rect x="184" y="629" width="1" height="27" fill="#c0c0c0"/>
<rect x="192" y="629" width="1" height="25" fill="#c0c0c0"/>
<rect x="200" y="629" width="1" height="23" fill="#c0c0c0"/>
<rect x="208" y="629" width="1" height="19" fill="#c0c0c0"/>
<rect x="216" y="629" width="1" height="15" fill="#c0c0c0"/>
<rect x="224" y="629" width="1" height="11" fill="#c0c0c0"/>
<rect x="232" y="629" width="1" height="8" fill="#c0c0c0"/>
<rect x="240" y="629" width="1" height="5" fill="#c0c0c0"/>
<rect x="248" y="629" width="1" height="6" fill="#c0c0c0"/>
<rect x="256" y="629" width="1" height="5" fill="#c0c0c0"/>
<rect x="264" y="629" width="1" height="5" fill="#c0c0c0"/>
<rect x="272" y="629" width="1" height="7" fill="#c0c0c0"/>
<rect x="280" y="629" width="1" height="11" fill="#c0c0c0"/>
<rect x="288" y="629" width="1" height="14" fill="#c0c0c0"/>
<rect x="296" y="629" width="1" height="18" fill="#c0c0c0"/>
<rect x="304" y="629" width="1" height="20" fill="#c0c0c0"/>
<rect x="312" y="629" width="1" height="24" fill="#c0c0c0"/>
<rect x="320" y="629" width="1" height="27" fill="#c0c0c0"/>
<rect x="328" y="629" width="1" height="27" fill="#c0c0c0"/>
<rect x="336" y="629" width="1" height="29" fill="#c0c0c0"/>
<rect x="344" y="629" width="1" height="27" fill="#c0c0c0"/>
<rect x="352" y="629" width="1" height="29" fill="#c0c0c0"/>
<rect x="360" y="629" width="1" height="39" fill="#c0c0c0"/>
<rect x="368" y="629" width="1" height="42" fill="#c0c0c0"/>
<rect x="376" y="629" width="1" height="46" fill="#c0c0c0"/>
<rect x="384" y="629" width="1" height="55" fill="#c0c0c0"/>
<rect x="392" y="629" width="1" height="63" fill="#c0c0c0"/>
<rect x="400" y="629" width="1" height="77" fill="#c0c0c0"/>
<rect x="408" y="629" width="1" height="84" fill="#c0c0c0"/>
<rect x="416" y="629" width="1" height="96" fill="#c0c0c0"/>
<rect x="424" y="629" width="1" height="105" fill="#c0c0c0"/>
<rect x="432" y="629" width="1" height="103" fill="#c0c0c0"/>
<rect x="440" y="629" width="1" height="111" fill="#c0c0c0"/>
<rect x="448" y="629" width="1" height="108" fill="#c0c0c0"/>
<rect x="456" y="629" width="1" height="98" fill="#c0c0c0"/>
<rect x="464" y="629" width="1" height="92" fill="#c0c0c0"/>
<rect x="472" y="629" width="1" height="84" fill="#c0c0c0"/>
<rect x="480" y="629" width="1" height="80" fill="#c0c0c0"/>
<rect x="488" y="629" width="1" height="72" fill="#c0c0c0"/>
<rect x="496" y="629" width="1" height="69" fill="#c0c0c0"/>
<rect x="504" y="629" width="1" height="64" fill="#c0c0c0"/>
<rect x="512" y="629" width="1" height="60" fill="#c0c0c0"/>
<rect x="520" y="629" width="1" height="53" fill="#c0c0c0"/>
<rect x="528" y="629" width="1" height="42" fill="#c0c0c0"/>
<rect x="536" y="629" width="1" height="37" fill="#c0c0c0"/>
<rect x="544" y="629" width="1" height="30" fill="#c0c0c0"/>
<rect x="552" y="629" width="1" height="22" fill="#c0c0c0"/>
<rect x="560" y="629" width="1" height="19" fill="#c0c0c0"/>
<rect x="568" y="629" width="1" height="17" fill="#c0c0c0"/>
<rect x="576" y="629" width="1" height="12" fill="#c0c0c0"/>
<rect x="584" y="629" width="1" height="8" fill="#c0c0c0"/>
<rect x="592" y="629" width="1" height="9" fill="#c0c0c0"/>
<rect x="600" y="629" width="1" height="9" fill="#c0c0c0"/>
<rect x="608" y="629" width="1" height="8" fill="#c0c0c0"/>
<rect x="616" y="629" width="1" height="9" fill="#c0c0c0"/>
<rect x="624" y="629" width="1" height="6" fill="#c0c0c0"/>
<rect x="632" y="629" width="1" height="2" fill="#c0c0c0"/>
<rect x="640" y="628" width="1" height="2" fill="#c0c0c0"/>
<rect x="648" y="629" width="1" height="4" fill="#c0c0c0"/>
<rect x="656" y="629" width="1" height="5" fill="#c0c0c0"/>
<rect x="664" y="629" width="1" height="4" fill="#c0c0c0"/>
<rect x="672" y="629" width="1" height="4" fill="#c0c0c0"/>
<rect x="680" y="629" width="1" height="3" fill="#c0c0c0"/>
<rect x="688" y="629" width="1" height="1" fill="#c0c0c0"/>
<rect x="696" y="629" width="1" height="1" fill="#c0c0c0"/>
<rect x="704" y="629" width="1" height="1" fill="#c0c0c0"/>
<rect x="712" y="629" width="1" height="2" fill="#c0c0c0"/>
<rect x="720" y="629" width="1" height="4" fill="#c0c0c0"/>
<rect x="728" y="629" width="1" height="4" fill="#c0c0c0"/>
<rect x="736" y="629" width="1" height="1" fill="#c0c0c0"/>
<rect x="744" y="628" width="1" height="2" fill="#c0c0c0"/>
<rect x="752" y="628" width="1" height="2" fill="#c0c0c0"/>
<rect x="760" y="629" width="1" height="7" fill="#c0c0c0"/>
<rect x="768" y="629" width="1" height="13" fill="#c0c0c0"/>
<rect x="776" y="629" width="1" height="15" fill="#c0c0c0"/>
<rect x="784" y="629" width="1" height="18" fill="#c0c0c0"/>
<rect x="792" y="629" width="1" height="21" fill="#c0c0c0"/>
<rect x="800" y="629" width="1" height="24" fill="#c0c0c0"/>
<rect x="808" y="629" width="1" height="22" fill="#c0c0c0"/>
<rect x="816" y="629" width="1" height="17" fill="#c0c0c0"/>
<rect x="824" y="629" width="1" height="10" fill="#c0c0c0"/>
<rect x="832" y="629" width="1" height="5" fill="#c0c0c0"/>
<rect x="840" y="627" width="1" height="3" fill="#c0c0c0"/>
<rect x="848" y="622" width="1" height="8" fill="#c0c0c0"/>
<rect x="856" y="616" width="1" height="14" fill="#c0c0c0"/>
<rect x="864" y="611" width="1" height="19" fill="#c0c0c0"/>
<rect x="872" y="612" width="1" height="18" fill="#c0c0c0"/>
<rect x="880" y="614" width="1" height="16" fill="#c0c0c0"/>
<rect x="888" y="619" width="1" height="11" fill="#c0c0c0"/>
<rect x="896" y="618" width="1" height="12" fill="#c0c0c0"/>
<rect x="904" y="618" width="1" height="12" fill="#c0c0c0"/>
<rect x="912" y="618" width="1" height="12" fill="#c0c0c0"/>
<rect x="920" y="616" width="1" height="14" fill="#c0c0c0"/>
<rect x="928" y="616" width="1" height="14" fill="#c0c0c0"/>
<rect x="936" y="613" width="1" height="17" fill="#c0c0c0"/>
<rect x="944" y="614" width="1" height="16" fill="#c0c0c0"/>
<rect x="952" y="616" width="1" height="14" fill="#c0c0c0"/>
<rect x="960" y="619" width="1" height="11" fill="#c0c0c0"/>
<rect x="968" y="621" width="1" height="9" fill="#c0c0c0"/>
<rect x="976" y="616" width="1" height="14" fill="#c0c0c0"/>
<rect x="984" y="612" width="1" height="18" fill="#c0c0c0"/>
<rect x="992" y="601" width="1" height="29" fill="#c0c0c0"/>
<rect x="1000" y="596" width="1" height="34" fill="#c0c0c0"/>
<rect x="1008" y="592" width="1" height="38" fill="#c0c0c0"/>
<rect x="1016" y="588" width="1" height="42" fill="#c0c0c0"/>
<rect x="1024" y="589" width="1" height="41" fill="#c0c0c0"/>
<rect x="1032" y="589" width="1" height="41" fill="#c0c0c0"/>
<rect x="1040" y="592" width="1" height="38" fill="#c0c0c0"/>
<rect x="1048" y="595" width="1" height="35" fill="#c0c0c0"/>
<rect x="1056" y="601" width="1" height="29" fill="#c0c0c0"/>
<rect x="1064" y="605" width="1" height="25" fill="#c0c0c0"/>
<rect x="1072" y="609" width="1" height="21" fill="#c0c0c0"/>
<rect x="1080" y="608" width="1" height="22" fill="#c0c0c0"/>
<rect x="1088" y="611" width="1" height="19" fill="#c0c0c0"/>
<rect x="1096" y="613" width="1" height="17" fill="#c0c0c0"/>
<rect x="1104" y="619" width="1" height="11" fill="#c0c0c0"/>
<rect x="1112" y="623" width="1" height="7" fill="#c0c0c0"/>
<rect x="1120" y="626" width="1" height="4" fill="#c0c0c0"/>
<rect x="1128" y="628" width="1" height="2" fill="#c0c0c0"/>
<rect x="1136" y="629" width="1" height="1" fill="#c0c0c0"/>
<rect x="1144" y="629" width="1" height="3" fill="#c0c0c0"/>
<rect x="1152" y="629" width="1" height="7" fill="#c0c0c0"/>
<rect x="1160" y="629" width="1" height="6" fill="#c0c0c0"/>
<rect x="1168" y="629" width="1" height="4" fill="#c0c0c0"/>
<rect x="1176" y="629" width="1" height="4" fill="#c0c0c0"/>
<rect x="1184" y="629" width="1" height="7" fill="#c0c0c0"/>
<rect x="1192" y="629" width="1" height="9" fill="#c0c0c0"/>
<rect x="1200" y="629" width="1" height="7" fill="#c0c0c0"/>
<rect x="1208" y="629" width="1" height="3" fill="#c0c0c0"/>
<rect x="1216" y="629" width="1" height="1" fill="#c0c0c0"/>
<rect x="1232" y="627" width="1" height="3" fill="#c0c0c0"/>
<rect x="1240" y="625" width="1" height="5" fill="#c0c0c0"/>
<rect x="1248" y="625" width="1" height="5" fill="#c0c0c0"/>
<rect x="1256" y="627" width="1" height="3" fill="#c0c0c0"/>
<rect x="1264" y="627" width="1" height="3" fill="#c0c0c0"/>
<rect x="1272" y="624" width="1" height="6" fill="#c0c0c0"/>
<rect x="1280" y="622" width="1" height="8" fill="#c0c0c0"/>
<rect x="1288" y="620" width="1" height="10" fill="#c0c0c0"/>
<rect x="1296" y="621" width="1" height="9" fill="#c0c0c0"/>
<rect x="1304" y="621" width="1" height="9" fill="#c0c0c0"/>
<rect x="1312" y="622" width="1" height="8" fill="#c0c0c0"/>
<rect x="1320" y="624" width="1" height="6" fill="#c0c0c0"/>
<rect x="1328" y="625" width="1" height="5" fill="#c0c0c0"/>
<rect x="1336" y="627" width="1" height="3" fill="#c0c0c0"/>
<rect x="1352" y="629" width="1" height="4" fill="#c0c0c0"/>
<rect x="1360" y="629" width="1" height="7" fill="#c0c0c0"/>
<rect x="1368" y="629" width="1" height="9" fill="#c0c0c0"/>
<rect x="1376" y="629" width="1" height="13" fill="#c0c0c0"/>
<rect x="1384" y="629" width="1" height="13" fill="#c0c0c0"/>
<rect x="1392" y="629" width="1" height="13" fill="#c0c0c0"/>
<rect x="1400" y="629" width="1" height="12" fill="#c0c0c0"/>
<rect x="1408" y="629" width="1" height="11" fill="#c0c0c0"/>
<rect x="1416" y="629" width="1" height="12" fill="#c0c0c0"/>
<rect x="1424" y="629" width="1" height="12" fill="#c0c0c0"/>
<rect x="1432" y="629" width="1" height="16" fill="#c0c0c0"/>
<rect x="1440" y="629" width="1" height="21" fill="#c0c0c0"/>
<rect x="1448" y="629" width="1" height="24" fill="#c0c0c0"/>
<polyline points="0.5,602.1 8.5,600.1 16.5,598.6 24.5,597.4 32.5,596.7 40.5,596.2 48.5,595.6 56.5,595.2 64.5,595.0 72.5,595.0 80.5,595.1 88.5,595.0 96.5,595.1 104.5,595.7 112.5,596.8 120.5,598.8 128.5,601.5 136.5,605.2 144.5,610.0 152.5,615.9 160.5,622.8 168.5,629.6 176.5,635.9 184.5,641.4 192.5,645.9 200.5,649.7 208.5,652.0 216.5,652.7 224.5,652.0 232.5,649.9 240.5,647.2 248.5,644.5 256.5,642.0 264.5,639.8 272.5,638.0 280.5,637.0 288.5,637.0 296.5,637.6 304.5,639.0 312.5,641.0 320.5,643.3 328.5,645.9 336.5,648.6 344.5,650.9 352.5,653.0 360.5,655.8 368.5,658.5 376.5,661.3 384.5,664.8 392.5,668.8 400.5,674.3 408.5,680.3 416.5,687.9 424.5,696.2 432.5,703.4 440.5,711.0 448.5,717.9 456.5,722.7 464.5,725.9 472.5,726.8 480.5,726.4 488.5,723.7 496.5,719.8 504.5,715.4 512.5,709.8 520.5,703.7 528.5,697.4 536.5,691.3 544.5,685.2 552.5,678.8 560.5,673.0 568.5,667.1 576.5,661.3 584.5,655.6 592.5,650.8 600.5,647.2 608.5,644.0 616.5,641.7 624.5,639.9 632.5,637.9 640.5,635.9 648.5,635.0 656.5,634.6 664.5,634.0 672.5,633.4 680.5,632.9 688.5,631.8 696.5,631.0 704.5,630.7 712.5,631.0 720.5,631.1 728.5,631.0 736.5,630.6 744.5,629.9 752.5,629.4 760.5,630.2 768.5,631.9 776.5,633.6 784.5,635.5 792.5,637.4 800.5,639.7 808.5,642.1 816.5,644.2 824.5,645.5 832.5,645.2 840.5,643.5 848.5,640.9 856.5,637.3 864.5,632.8 872.5,628.1 880.5,623.8 888.5,620.7 896.5,618.3 904.5,616.4 912.5,615.3 920.5,614.7 928.5,614.7 936.5,615.0 944.5,615.2 952.5,615.4 960.5,615.4 968.5,615.7 976.5,615.6 984.5,614.9 992.5,613.2 1000.5,611.0 1008.5,608.6 1016.5,605.8 1024.5,602.7 1032.5,599.4 1040.5,596.2 1048.5,593.8 1056.5,592.6 1064.5,593.0 1072.5,594.4 1080.5,596.2 1088.5,598.8 1096.5,601.6 1104.5,604.8 1112.5,608.3 1120.5,611.9 1128.5,614.9 1136.5,617.8 1144.5,620.5 1152.5,623.7 1160.5,626.4 1168.5,628.6 1176.5,630.3 1184.5,631.8 1192.5,633.2 1200.5,634.2 1208.5,634.5 1216.5,634.2 1224.5,633.4 1232.5,632.5 1240.5,631.5 1248.5,630.5 1256.5,629.4 1264.5,628.1 1272.5,626.6 1280.5,625.3 1288.5,624.1 1296.5,623.2 1304.5,622.5 1312.5,622.2 1320.5,622.1 1328.5,621.8 1336.5,621.8 1344.5,622.5 1352.5,623.8 1360.5,625.6 1368.5,627.6 1376.5,630.1 1384.5,632.4 1392.5,634.6 1400.5,636.5 1408.5,638.0 1416.5,639.4 1424.5,640.4 1432.5,641.4 1440.5,642.7 1448.5,643.9" fill="none" stroke="#ff0000" stroke-width="1" stroke-dasharray="3 3"/>
</g>
<g clip-path="url(#cr)">
<line x1="-1" y1="786.5" x2="1683" y2="786.5" stroke="#c0c0c0" stroke-width="1" stroke-dasharray="3 3"/>
<line x1="-1" y1="837.5" x2="1683" y2="837.5" stroke="#c0c0c0" stroke-width="1" stroke-dasharray="3 3"/>
<line x1="-1" y1="898.5" x2="1683" y2="898.5" stroke="#c0c0c0" stroke-width="1" stroke-dasharray="3 3"/>
<polyline points="0.5,802.0 8.5,808.7 16.5,819.2 24.5,815.5 32.5,826.2 40.5,814.5 48.5,813.2 56.5,807.5 64.5,813.2 72.5,815.5 80.5,811.7 88.5,808.2 96.5,822.5 104.5,844.2 112.5,835.5 120.5,845.2 128.5,844.2 136.5,859.2 144.5,869.2 152.5,870.5 160.5,871.5 168.5,855.2 176.5,856.5 184.5,841.2 192.5,843.2 200.5,847.2 208.5,835.7 216.5,832.0 224.5,835.2 232.5,833.2 240.5,831.2 248.5,841.2 256.5,837.2 264.5,841.2 272.5,846.2 280.5,857.5 288.5,854.2 296.5,858.2 304.5,854.5 312.5,864.2 320.5,860.5 328.5,859.2 336.5,862.5 344.5,845.2 352.5,859.2 360.5,874.2 368.5,860.0 376.5,864.2 384.5,875.0 392.5,876.2 400.5,885.2 408.5,879.2 416.5,885.2 424.5,886.5 432.5,863.7 440.5,875.5 448.5,858.5 456.5,848.1 464.5,851.9 472.5,848.2 480.5,852.5 488.5,844.3 496.5,851.5 504.5,847.4 512.5,848.1 520.5,841.5 528.5,833.8 536.5,841.2 544.5,836.3 552.5,834.0 560.5,838.5 568.5,839.5 576.5,834.4 584.5,835.3 592.5,843.0 600.5,841.0 608.5,839.1 616.5,843.1 624.5,835.8 632.5,830.0 640.5,831.5 648.5,848.4 656.5,842.2 664.5,837.8 672.5,840.8 680.5,836.7 688.5,831.0 696.5,836.9 704.5,838.1 712.5,844.5 720.5,844.8 728.5,839.7 736.5,832.3 744.5,830.6 752.5,836.9 760.5,858.8 768.5,855.3 776.5,846.6 784.5,851.6 792.5,852.9 800.5,854.7 808.5,842.0 816.5,833.3 824.5,829.0 832.5,828.0 840.5,821.8 848.5,821.2 856.5,819.4 864.5,817.0 872.5,832.0 880.5,834.9 888.5,844.9 896.5,832.6 904.5,831.7 912.5,833.0 920.5,828.0 928.5,831.7 936.5,822.7 944.5,832.5 952.5,836.1 960.5,842.1 968.5,837.9 976.5,822.2 984.5,819.9 992.5,806.6 1000.5,815.0 1008.5,813.9 1016.5,811.5 1024.5,823.5 1032.5,822.8 1040.5,827.3 1048.5,828.4 1056.5,840.4 1064.5,835.5 1072.5,838.4 1080.5,827.2 1088.5,837.5 1096.5,835.2 1104.5,845.3 1112.5,846.2 1120.5,843.6 1128.5,841.1 1136.5,845.8 1144.5,847.4 1152.5,851.1 1160.5,837.6 1168.5,834.8 1176.5,840.4 1184.5,849.2 1192.5,848.7 1200.5,836.9 1208.5,829.7 1216.5,832.4 1224.5,833.9 1232.5,828.7 1240.5,827.6 1248.5,833.8 1256.5,845.1 1264.5,835.2 1272.5,825.9 1280.5,827.3 1288.5,827.8 1296.5,836.3 1304.5,830.8 1312.5,838.5 1320.5,838.5 1328.5,839.5 1336.5,842.7 1344.5,850.1 1352.5,853.5 1360.5,855.0 1368.5,856.4 1376.5,861.3 1384.5,851.5 1392.5,848.7 1400.5,840.1 1408.5,842.3 1416.5,853.8 1424.5,848.4 1432.5,862.8 1440.5,867.7 1448.5,865.5" fill="none" stroke="#1e90ff" stroke-width="1"/>
</g>
<rect x="1686" y="580" width="1" height="1" fill="#000"/>
<rect x="1686" y="629" width="1" height="1" fill="#000"/>
<rect x="1686" y="746" width="1" height="1" fill="#000"/>
<rect x="1686" y="752" width="1" height="1" fill="#000"/>
<rect x="1686" y="923" width="1" height="1" fill="#000"/>
<rect x="1685" y="786" width="1" height="1" fill="#fff"/>
<rect x="1685" y="837" width="1" height="1" fill="#fff"/>
<rect x="1685" y="898" width="1" height="1" fill="#fff"/>
<rect x="56" y="924" width="1" height="4" fill="#000"/>
<rect x="120" y="924" width="1" height="4" fill="#000"/>
<rect x="184" y="924" width="1" height="4" fill="#000"/>
<rect x="248" y="924" width="1" height="4" fill="#000"/>
<rect x="312" y="924" width="1" height="4" fill="#000"/>
<rect x="376" y="924" width="1" height="4" fill="#000"/>
<rect x="440" y="924" width="1" height="4" fill="#000"/>
<rect x="504" y="924" width="1" height="4" fill="#000"/>
<rect x="568" y="924" width="1" height="4" fill="#000"/>
<rect x="632" y="924" width="1" height="4" fill="#000"/>
<rect x="696" y="924" width="1" height="4" fill="#000"/>
<rect x="760" y="924" width="1" height="4" fill="#000"/>
<rect x="824" y="924" width="1" height="4" fill="#000"/>
<rect x="888" y="924" width="1" height="4" fill="#000"/>
<rect x="952" y="924" width="1" height="4" fill="#000"/>
<rect x="1016" y="924" width="1" height="4" fill="#000"/>
<rect x="1080" y="924" width="1" height="4" fill="#000"/>
<rect x="1144" y="924" width="1" height="4" fill="#000"/>
<rect x="1208" y="924" width="1" height="4" fill="#000"/>
<rect x="1272" y="924" width="1" height="4" fill="#000"/>
<rect x="1336" y="924" width="1" height="4" fill="#000"/>
<rect x="1400" y="924" width="1" height="4" fill="#000"/>
</g>
<text x="1688.6" y="589" font-size="10" fill="#000" text-anchor="start" font-weight="normal" textLength="28" lengthAdjust="spacingAndGlyphs">596.11</text>
<text x="1688.6" y="633" font-size="10" fill="#000" text-anchor="start" font-weight="normal" textLength="18.5" lengthAdjust="spacingAndGlyphs">0.00</text>
<text x="1688.6" y="745" font-size="10" fill="#000" text-anchor="start" font-weight="normal" textLength="36" lengthAdjust="spacingAndGlyphs">-1415.19</text>
<text x="1688.6" y="761" font-size="10" fill="#000" text-anchor="start" font-weight="normal" textLength="15.5" lengthAdjust="spacingAndGlyphs">100</text>
<text x="1688.6" y="790" font-size="10" fill="#000" text-anchor="start" font-weight="normal" textLength="10.3" lengthAdjust="spacingAndGlyphs">80</text>
<text x="1688.6" y="841" font-size="10" fill="#000" text-anchor="start" font-weight="normal" textLength="10.3" lengthAdjust="spacingAndGlyphs">50</text>
<text x="1688.6" y="902" font-size="10" fill="#000" text-anchor="start" font-weight="normal" textLength="9.6" lengthAdjust="spacingAndGlyphs">15</text>
<text x="1688.6" y="921" font-size="10" fill="#000" text-anchor="start" font-weight="normal" textLength="5.2" lengthAdjust="spacingAndGlyphs">0</text>
<text x="-8.6" y="937" font-size="10" fill="#000" text-anchor="start" font-weight="normal" textLength="51.2" lengthAdjust="spacingAndGlyphs">31 Dec 2019</text>
<text x="55.4" y="937" font-size="10" fill="#000" text-anchor="start" font-weight="normal" textLength="49.7" lengthAdjust="spacingAndGlyphs">13 Jan 2020</text>
<text x="119.4" y="937" font-size="10" fill="#000" text-anchor="start" font-weight="normal" textLength="49.7" lengthAdjust="spacingAndGlyphs">23 Jan 2020</text>
<text x="183.4" y="937" font-size="10" fill="#000" text-anchor="start" font-weight="normal" textLength="45.7" lengthAdjust="spacingAndGlyphs">6 Feb 2020</text>
<text x="247.4" y="937" font-size="10" fill="#000" text-anchor="start" font-weight="normal" textLength="50.7" lengthAdjust="spacingAndGlyphs">18 Feb 2020</text>
<text x="311.4" y="937" font-size="10" fill="#000" text-anchor="start" font-weight="normal" textLength="50.7" lengthAdjust="spacingAndGlyphs">28 Feb 2020</text>
<text x="375.4" y="937" font-size="10" fill="#000" text-anchor="start" font-weight="normal" textLength="50.7" lengthAdjust="spacingAndGlyphs">11 Mar 2020</text>
<text x="439.4" y="937" font-size="10" fill="#000" text-anchor="start" font-weight="normal" textLength="50.7" lengthAdjust="spacingAndGlyphs">23 Mar 2020</text>
<text x="503.4" y="937" font-size="10" fill="#000" text-anchor="start" font-weight="normal" textLength="44.2" lengthAdjust="spacingAndGlyphs">2 Apr 2020</text>
<text x="567.4" y="937" font-size="10" fill="#000" text-anchor="start" font-weight="normal" textLength="49.2" lengthAdjust="spacingAndGlyphs">16 Apr 2020</text>
<text x="631.4" y="937" font-size="10" fill="#000" text-anchor="start" font-weight="normal" textLength="49.2" lengthAdjust="spacingAndGlyphs">28 Apr 2020</text>
<text x="695.4" y="937" font-size="10" fill="#000" text-anchor="start" font-weight="normal" textLength="52.2" lengthAdjust="spacingAndGlyphs">12 May 2020</text>
<text x="759.4" y="937" font-size="10" fill="#000" text-anchor="start" font-weight="normal" textLength="52.2" lengthAdjust="spacingAndGlyphs">22 May 2020</text>
<text x="823.4" y="937" font-size="10" fill="#000" text-anchor="start" font-weight="normal" textLength="44.7" lengthAdjust="spacingAndGlyphs">3 Jun 2020</text>
<text x="887.4" y="937" font-size="10" fill="#000" text-anchor="start" font-weight="normal" textLength="49.7" lengthAdjust="spacingAndGlyphs">15 Jun 2020</text>
<text x="951.4" y="937" font-size="10" fill="#000" text-anchor="start" font-weight="normal" textLength="49.7" lengthAdjust="spacingAndGlyphs">26 Jun 2020</text>
<text x="1015.4" y="937" font-size="10" fill="#000" text-anchor="start" font-weight="normal" textLength="41.7" lengthAdjust="spacingAndGlyphs">9 Jul 2020</text>
<text x="1079.4" y="937" font-size="10" fill="#000" text-anchor="start" font-weight="normal" textLength="46.7" lengthAdjust="spacingAndGlyphs">21 Jul 2020</text>
<text x="1143.4" y="937" font-size="10" fill="#000" text-anchor="start" font-weight="normal" textLength="46.7" lengthAdjust="spacingAndGlyphs">31 Jul 2020</text>
<text x="1207.4" y="937" font-size="10" fill="#000" text-anchor="start" font-weight="normal" textLength="51.2" lengthAdjust="spacingAndGlyphs">12 Aug 2020</text>
<text x="1271.4" y="937" font-size="10" fill="#000" text-anchor="start" font-weight="normal" textLength="51.2" lengthAdjust="spacingAndGlyphs">24 Aug 2020</text>
<text x="1335.4" y="937" font-size="10" fill="#000" text-anchor="start" font-weight="normal" textLength="46.2" lengthAdjust="spacingAndGlyphs">3 Sep 2020</text>
<text x="1399.4" y="937" font-size="10" fill="#000" text-anchor="start" font-weight="normal" textLength="51.2" lengthAdjust="spacingAndGlyphs">15 Sep 2020</text>
<text x="-4.6" y="591" font-size="10" fill="#000" text-anchor="start" font-weight="normal" textLength="66.4" lengthAdjust="spacingAndGlyphs">MACD(12,26,9)</text>
<text x="64.9" y="591" font-size="10" fill="#000" text-anchor="start" font-weight="normal" textLength="30.5" lengthAdjust="spacingAndGlyphs">-280.37</text>
<text x="99.2" y="591" font-size="10" fill="#000" text-anchor="start" font-weight="normal" textLength="30.1" lengthAdjust="spacingAndGlyphs">-176.99</text>
<text x="-5.6" y="763" font-size="10" fill="#000" text-anchor="start" font-weight="normal" textLength="33.4" lengthAdjust="spacingAndGlyphs">RSI(14)</text>
<text x="31" y="763" font-size="10" fill="#000" text-anchor="start" font-weight="normal" textLength="33.4" lengthAdjust="spacingAndGlyphs">33.5880</text>
<text x="7" y="35" font-size="10" fill="#000" text-anchor="start" font-weight="normal" textLength="50.5" lengthAdjust="spacingAndGlyphs">HK50-,Daily</text>
<text x="63.8" y="35" font-size="10" fill="#000" text-anchor="start" font-weight="normal" textLength="142.2" lengthAdjust="spacingAndGlyphs">23656.0 23753.5 23501.5 23694.0</text>
<path d="M0 31.2 L2.6 34 L0 34Z" fill="#000"/>
<g shape-rendering="crispEdges">
<line x1="1288.6" y1="262.4" x2="1370.6" y2="356.4" stroke="#ff0000" stroke-width="3.7" stroke-linecap="butt"/><path d="M1376.8 363.6 L1366.1 357.7 L1372.4 352.2Z" fill="#ff0000"/>
<line x1="1376.5" y1="363.0" x2="1401.8" y2="339.7" stroke="#ff0000" stroke-width="3.7" stroke-linecap="butt"/><path d="M1408.8 333.3 L1403.2 344.2 L1397.5 338.0Z" fill="#ff0000"/>
<line x1="1402.2" y1="325.2" x2="1457.8" y2="414.7" stroke="#ff0000" stroke-width="3.7" stroke-linecap="butt"/><path d="M1462.8 422.8 L1453.2 415.2 L1460.3 410.8Z" fill="#ff0000"/>
<line x1="1345.2" y1="630.3" x2="1466.7" y2="654.7" stroke="#ff0000" stroke-width="3.7" stroke-linecap="butt"/><path d="M1476.0 656.6 L1463.9 658.5 L1465.6 650.2Z" fill="#ff0000"/>
<line x1="1303.7" y1="829.0" x2="1360.9" y2="855.7" stroke="#ff0000" stroke-width="3.7" stroke-linecap="butt"/><path d="M1369.5 859.7 L1357.3 858.6 L1360.9 851.0Z" fill="#ff0000"/>
<line x1="1369.5" y1="859.7" x2="1397.2" y2="842.7" stroke="#ff0000" stroke-width="3.7" stroke-linecap="butt"/><path d="M1405.3 837.7 L1397.7 847.3 L1393.3 840.1Z" fill="#ff0000"/>
<line x1="1407.0" y1="840.6" x2="1444.5" y2="875.2" stroke="#ff0000" stroke-width="3.7" stroke-linecap="butt"/><path d="M1451.5 881.6 L1440.2 876.9 L1445.9 870.7Z" fill="#ff0000"/>
</g>
<g shape-rendering="crispEdges"><rect x="1241" y="379" width="11" height="1" fill="#ff0000"/><rect x="1251.5" y="367.5" width="73" height="24" fill="#fff" stroke="#ff0000" stroke-width="1"/></g>
<text x="1252.8" y="387.3" font-size="21.5" fill="#ff0000" text-anchor="start" font-weight="normal" textLength="70.5" lengthAdjust="spacingAndGlyphs">23921.0</text>
<defs>
<linearGradient id="gp" x1="0" y1="0" x2="0" y2="1"><stop offset="0" stop-color="#e03232"/><stop offset="0.45" stop-color="#cc1a1a"/><stop offset="0.85" stop-color="#b80606"/><stop offset="1" stop-color="#b00000"/></linearGradient>
<linearGradient id="gb" x1="0" y1="0" x2="0" y2="1"><stop offset="0" stop-color="#fa5252"/><stop offset="1" stop-color="#e03232"/></linearGradient>
<linearGradient id="gs" x1="0" y1="0" x2="0" y2="1"><stop offset="0" stop-color="#f0f0f0"/><stop offset="0.35" stop-color="#e6e6e6"/><stop offset="0.36" stop-color="#d6d6d6"/><stop offset="1" stop-color="#cecece"/></linearGradient>
</defs>
<g shape-rendering="crispEdges">
<rect x="0" y="41" width="216" height="68" fill="#fff"/>
<rect x="0" y="67" width="104" height="40" fill="url(#gp)"/>
<rect x="106" y="67" width="108" height="40" fill="url(#gp)"/>
<rect x="103" y="67" width="1" height="40" fill="#a80404" fill-opacity="0.7"/><rect x="213" y="67" width="1" height="40" fill="#a80404" fill-opacity="0.7"/>
<rect x="0" y="106" width="104" height="1" fill="#a40000"/><rect x="106" y="106" width="108" height="1" fill="#a40000"/>
<rect x="0" y="43" width="46" height="24" fill="url(#gb)"/>
<rect x="162" y="43" width="52" height="24" fill="url(#gb)"/>
<rect x="0" y="43" width="46" height="1" fill="#cc1c1c"/><rect x="162" y="43" width="52" height="1" fill="#cc1c1c"/>
<rect x="45" y="43" width="1" height="24" fill="#c41414"/><rect x="162" y="43" width="1" height="24" fill="#c41414"/><rect x="213" y="43" width="1" height="24" fill="#c41414"/>
<rect x="0" y="66" width="43" height="1" fill="#a00000"/>
<rect x="166" y="66" width="44" height="1" fill="#a00000"/>
<rect x="49.5" y="43.5" width="110" height="21" fill="#fff" stroke="#a4a8b8" stroke-width="1"/>
<rect x="51" y="45" width="19" height="18" fill="url(#gs)"/><rect x="70" y="44" width="1" height="20" fill="#b8bcc8"/>
<rect x="140" y="45" width="18" height="18" fill="url(#gs)"/><rect x="138" y="44" width="1" height="20" fill="#b8bcc8"/>
</g>
<path d="M57 52 L62.2 52 L59.6 55.3Z" fill="#4460c4"/>
<path d="M146 55.3 L151.2 55.3 L148.6 52Z" fill="#4460c4"/>
<text x="135.6" y="58" font-size="12.5" fill="#000" text-anchor="end" font-weight="normal" textLength="25.5" lengthAdjust="spacingAndGlyphs">1.00</text>
<text x="6.8" y="59" font-size="12.5" fill="#fff" text-anchor="start" font-weight="normal" textLength="27.2" lengthAdjust="spacingAndGlyphs">SELL</text>
<text x="174.6" y="59" font-size="12.5" fill="#fff" text-anchor="start" font-weight="normal" textLength="25" lengthAdjust="spacingAndGlyphs">BUY</text>
<text x="10.8" y="97.8" font-size="12" fill="#fff" text-anchor="start" font-weight="bold" textLength="36.5" lengthAdjust="spacingAndGlyphs">23692</text>
<text x="120.2" y="97.8" font-size="12" fill="#fff" text-anchor="start" font-weight="bold" textLength="36.5" lengthAdjust="spacingAndGlyphs">23705</text>
<rect x="50" y="94.3" width="4.3" height="3.5" fill="#fff"/>
<rect x="161.2" y="94.2" width="4.2" height="3.5" fill="#fff"/>
<text x="56.4" y="97.8" font-size="34.6" fill="#fff" text-anchor="start" font-weight="normal" textLength="17.6" lengthAdjust="spacingAndGlyphs">5</text>
<text x="167.4" y="97.8" font-size="34.6" fill="#fff" text-anchor="start" font-weight="normal" textLength="17.6" lengthAdjust="spacingAndGlyphs">5</text>
<g>
<rect x="0" y="0" width="1732" height="18" fill="#f0f0f0"/>
<g shape-rendering="crispEdges">
<rect x="0" y="18" width="1732" height="1" fill="#f6f6f6"/>
<rect x="0" y="19" width="1732" height="1" fill="#a8a8a8"/>
<rect x="0" y="20" width="1732" height="1" fill="#686868"/>
<rect x="0" y="21" width="1732" height="2" fill="#fff"/>
<rect x="1731" y="19" width="1" height="927" fill="#e3e3e3"/>
<rect x="0" y="945" width="1732" height="1" fill="#e3e3e3"/>
<rect x="46" y="0" width="1" height="17" fill="#a0a0a0"/>
<rect x="320" y="0" width="1" height="17" fill="#a0a0a0"/>
<rect x="377" y="0" width="1" height="17" fill="#a0a0a0"/>
<rect x="467" y="0" width="1" height="17" fill="#a0a0a0"/>
<rect x="472" y="0" width="1" height="17" fill="#a0a0a0"/>
<rect x="500" y="0" width="1" height="17" fill="#a0a0a0"/>
<rect x="529" y="0" width="1" height="17" fill="#a0a0a0"/>
<rect x="717" y="0" width="1" height="17" fill="#a0a0a0"/>
<rect x="282" y="0" width="1" height="18" fill="#9a9a9a"/>
<rect x="286" y="1" width="3" height="1" fill="#a8a8a8"/>
<rect x="286" y="3" width="3" height="1" fill="#a8a8a8"/>
<rect x="286" y="5" width="3" height="1" fill="#a8a8a8"/>
<rect x="286" y="7" width="3" height="1" fill="#a8a8a8"/>
<rect x="286" y="9" width="3" height="1" fill="#a8a8a8"/>
<rect x="286" y="11" width="3" height="1" fill="#a8a8a8"/>
<rect x="286" y="13" width="3" height="1" fill="#a8a8a8"/>
<rect x="286" y="15" width="3" height="1" fill="#a8a8a8"/>
<rect x="650" y="0" width="1" height="19" fill="#808080"/>
<rect x="654" y="1" width="3" height="1" fill="#a8a8a8"/>
<rect x="654" y="3" width="3" height="1" fill="#a8a8a8"/>
<rect x="654" y="5" width="3" height="1" fill="#a8a8a8"/>
<rect x="654" y="7" width="3" height="1" fill="#a8a8a8"/>
<rect x="654" y="9" width="3" height="1" fill="#a8a8a8"/>
<rect x="654" y="11" width="3" height="1" fill="#a8a8a8"/>
<rect x="654" y="13" width="3" height="1" fill="#a8a8a8"/>
<rect x="654" y="15" width="3" height="1" fill="#a8a8a8"/>
<rect x="956" y="0" width="1" height="19" fill="#808080"/>
<rect x="960" y="1" width="3" height="1" fill="#a8a8a8"/>
<rect x="960" y="3" width="3" height="1" fill="#a8a8a8"/>
<rect x="960" y="5" width="3" height="1" fill="#a8a8a8"/>
<rect x="960" y="7" width="3" height="1" fill="#a8a8a8"/>
<rect x="960" y="9" width="3" height="1" fill="#a8a8a8"/>
<rect x="960" y="11" width="3" height="1" fill="#a8a8a8"/>
<rect x="960" y="13" width="3" height="1" fill="#a8a8a8"/>
<rect x="960" y="15" width="3" height="1" fill="#a8a8a8"/>
<rect x="1134" y="0" width="1" height="17" fill="#a0a0a0"/>
<rect x="1217" y="0" width="1" height="17" fill="#a0a0a0"/>
<rect x="322" y="0" width="23" height="17" fill="#f8f8f8"/>
<rect x="474" y="0" width="23" height="17" fill="#f8f8f8"/>
<rect x="502" y="0" width="24" height="17" fill="#f8f8f8"/>
<rect x="662" y="0" width="23" height="17" fill="#f8f8f8"/>
<rect x="1136" y="0" width="24" height="17" fill="#f8f8f8"/>
</g>
<rect x="-2" y="-2" width="10.5" height="15.5" fill="#fff" stroke="#3f74c9" stroke-width="1.2"/>
<rect x="0" y="2" width="7.5" height="1" fill="#9fbdf0"/>
<rect x="0" y="4.5" width="7.5" height="1" fill="#9fbdf0"/>
<rect x="0" y="7" width="7.5" height="1" fill="#9fbdf0"/>
<rect x="0" y="9.5" width="7.5" height="1" fill="#9fbdf0"/>
<rect x="21.5" y="-2" width="12" height="14" fill="#fdfdfd" stroke="#b8b0a0" stroke-width="1"/>
<path d="M24 0v5M24 3h3M30 0v6M30 2h2" stroke="#808890" stroke-width="1" fill="none"/>
<circle cx="29" cy="7" r="5" fill="#cfe2f6" fill-opacity="0.85" stroke="#7ba7e0" stroke-width="1.3"/>
<path d="M33 11 L38 16" stroke="#c89a28" stroke-width="2.4" stroke-linecap="round"/>
<path d="M56.5 -1 H64.5 L67.5 2 V12.5 H56.5Z" fill="#fcfcfc" stroke="#9a9a9a" stroke-width="1"/>
<path d="M58.5 2h4M58.5 5h7M58.5 8h4" stroke="#888" stroke-width="1.2"/>
<path d="M64.3 5.5h3.6v3.6h3.6v3.6h-3.6v3.6h-3.6v-3.6h-3.6v-3.6h3.6z" fill="#1fc01f" stroke="#0a8a0a" stroke-width="0.8"/>
<defs><linearGradient id="gbk" x1="0" y1="0" x2="1" y2="1"><stop offset="0" stop-color="#fbe873"/><stop offset="0.55" stop-color="#e6b020"/><stop offset="1" stop-color="#b87808"/></linearGradient></defs>
<path d="M123.3 8 L134.5 15 L139.3 8.8 L138.6 7.6 L134.2 13.2 L124 6.6Z" fill="#9c6406"/>
<path d="M128.5 -2 L139 7.6 L134.2 13.4 L123.3 7.2 Q126 3 128.5 -2Z" fill="url(#gbk)" stroke="#b07a10" stroke-width="0.8"/>
<defs><linearGradient id="gcl" x1="0" y1="0" x2="0" y2="1"><stop offset="0" stop-color="#ffffff"/><stop offset="1" stop-color="#b4c4e0"/></linearGradient></defs>
<path d="M153.5 -2 H160 V9 H153.5Z" fill="#1e8cf0"/><path d="M160 -2 H164 V9 H160Z" fill="#46a8f8"/>
<rect x="157.5" y="2.6" width="5" height="1.2" fill="#d8ecff"/><rect x="157.5" y="4.8" width="5" height="1.2" fill="#a8d0f8"/>
<path d="M154 14.3 a2.8 2.8 0 0 1 0.2 -5.6 a3.6 3.6 0 0 1 6.6 -0.9 a3 3 0 0 1 4.4 2.6 a2 2 0 0 1 -0.3 3.9Z" fill="url(#gcl)" stroke="#4a68a8" stroke-width="1"/>
<circle cx="187" cy="6.6" r="7.6" fill="none" stroke="#9fbfea" stroke-width="1.3"/>
<circle cx="187" cy="6.6" r="4.6" fill="none" stroke="#4f86d6" stroke-width="1.4"/>
<path d="M187.3 6.8 L187.3 14.9 A8.2 8.2 0 0 0 195.2 7.5 Z" fill="#8fcf8f" fill-opacity="0.85"/>
<path d="M187.5 7 V14.8" stroke="#1fa81f" stroke-width="1.8"/>
<circle cx="187" cy="6.4" r="1.8" fill="#2458c0"/>
<path d="M207 6.5 h13.5 l-6 8.3z" fill="#f9da4a" stroke="#d8a818" stroke-width="0.6"/>
<ellipse cx="214" cy="4.6" rx="7.8" ry="2.6" fill="#62aee4" stroke="#3c86c8" stroke-width="0.7"/>
<path d="M210.5 -2 h6 l1.6 6 q-4.5 1.6 -9 0z" fill="#58a4e0"/>
<circle cx="218.4" cy="10.6" r="4" fill="#e42a10" stroke="#b81c08" stroke-width="0.6"/><rect x="216.8" y="9" width="3.2" height="3.2" fill="#fff"/>
<path d="M300.5 1.5 V14.5 M298 12.5 H311.5 M298.7 3.5 L300.5 1 L302.3 3.5 M309.5 10.7 L312 12.5 L309.5 14.3" stroke="#505050" stroke-width="1" fill="none"/>
<path d="M307.5 2.5 V9.5 M304.5 9.5 H307.5 M307.5 3 H310" stroke="#1a9a1a" stroke-width="1.4" fill="none"/>
<path d="M328.5 1.5 V14.5 M326 12.5 H339.5 M326.7 3.5 L328.5 1 L330.3 3.5 M337.5 10.7 L340 12.5 L337.5 14.3" stroke="#505050" stroke-width="1" fill="none"/>
<path d="M334.5 0 V11" stroke="#108010" stroke-width="1"/><rect x="332.2" y="1.2" width="4.6" height="7.6" fill="#22cc22" stroke="#108010" stroke-width="0.8"/>
<path d="M356.5 1.5 V14.5 M354 12.5 H367.5 M354.7 3.5 L356.5 1 L358.3 3.5 M365.5 10.7 L368 12.5 L365.5 14.3" stroke="#505050" stroke-width="1" fill="none"/>
<path d="M356.5 9.5 Q361 2 363 4.5 T367 8.3" stroke="#1a9a1a" stroke-width="1.4" fill="none"/>
<path d="M396 9 L401.2 13.7" stroke="#b08818" stroke-width="3.2" stroke-linecap="round"/><path d="M396 9 L401.2 13.7" stroke="#f0d050" stroke-width="1.6" stroke-linecap="round"/>
<circle cx="392" cy="4.8" r="5.6" fill="#cfe6f8" stroke="#5b94d6" stroke-width="1.3"/>
<path d="M389 4.8 H395 M392 1.8 V7.8" stroke="#3b7cd0" stroke-width="1.6"/>
<path d="M424.3 9 L429.5 13.7" stroke="#b08818" stroke-width="3.2" stroke-linecap="round"/><path d="M424.3 9 L429.5 13.7" stroke="#f0d050" stroke-width="1.6" stroke-linecap="round"/>
<circle cx="420.3" cy="4.8" r="5.6" fill="#cfe6f8" stroke="#5b94d6" stroke-width="1.3"/>
<path d="M417.3 4.8 H423.3" stroke="#3b7cd0" stroke-width="1.6"/>
<rect x="442.5" y="-1" width="7.3" height="7.4" fill="#62b030"/><rect x="443.7" y="2" width="5" height="3" fill="#eef4ff"/>
<rect x="450.5" y="-1" width="7.3" height="7.4" fill="#2a5fd0"/><rect x="451.7" y="2" width="5" height="3" fill="#eef4ff"/>
<rect x="442.5" y="7.3" width="7.3" height="7.4" fill="#2a5fd0"/><rect x="443.7" y="10.3" width="5" height="3" fill="#eef4ff"/>
<rect x="450.5" y="7.3" width="7.3" height="7.4" fill="#62b030"/><rect x="451.7" y="10.3" width="5" height="3" fill="#eef4ff"/>
<path d="M480.5 1.5 V14.5 M478 12.5 H491.5 M478.7 3.5 L480.5 1 L482.3 3.5 M489.5 10.7 L492 12.5 L489.5 14.3" stroke="#505050" stroke-width="1" fill="none"/>
<path d="M485.5 3.3 V9.7 L489.5 6.5Z" fill="#30c030" stroke="#128a12" stroke-width="0.8"/>
<path d="M508.5 1.5 V14.5 M506 12.5 H519.5 M506.7 3.5 L508.5 1 L510.3 3.5 M517.5 10.7 L520 12.5 L517.5 14.3" stroke="#505050" stroke-width="1" fill="none"/>
<path d="M514.5 1 V11" stroke="#2060b0" stroke-width="1.3"/><path d="M520 6.5 H516 M518.5 4.3 L515.8 6.5 L518.5 8.7" stroke="#d84a10" stroke-width="1.3" fill="none"/>
<path d="M539.5 -1 H547.5 L551 2.5 V12 H539.5Z" fill="#fcfcfc" stroke="#9a9a9a" stroke-width="1"/><path d="M542 2v6M542 4h2" stroke="#888" stroke-width="1"/>
<path d="M547.3 5.3h3.8v3.8h3.8v3.8h-3.8v3.8h-3.8v-3.8h-3.8v-3.8h3.8z" fill="#1fc01f" stroke="#0a8a0a" stroke-width="0.8"/>
<path d="M560.8 6 L566.2 6 L563.5 9Z" fill="#000" shape-rendering="auto"/>
<circle cx="584.7" cy="6.4" r="6.9" fill="#fafcff" stroke="#2a66d0" stroke-width="2.7"/><path d="M584.7 2.5 V7 H588" stroke="#606870" stroke-width="1.2" fill="none"/>
<path d="M599.8 6 L605.2 6 L602.5 9Z" fill="#000" shape-rendering="auto"/>
<rect x="616.5" y="-1" width="15" height="14" fill="#fff" stroke="#3a70c8" stroke-width="1.4"/><rect x="616.5" y="-1" width="15" height="2.6" fill="#4a86e0"/>
<path d="M618.5 6 l3 -1.2 l2.5 1 l3 -1.6 l2.5 0.6" stroke="#b02818" stroke-width="1.2" fill="none"/><path d="M618.5 11 l3 -1.2 l2.5 1 l3 -1.8 l2.5 1.6" stroke="#18a030" stroke-width="1.2" fill="none"/>
<path d="M638.8 6 L644.2 6 L641.5 9Z" fill="#000" shape-rendering="auto"/>
<path d="M668.5 -1 V11 L671.3 8.3 L673.6 13.5 L675.6 12.6 L673.3 7.6 L677 7.4Z" fill="#404040"/>
<path d="M693 7.5 H708 M700.5 0 V15" stroke="#404040" stroke-width="1" shape-rendering="crispEdges"/>
<path d="M734.5 1 V14 M757 7.5 H769" stroke="#404040" stroke-width="1" shape-rendering="crispEdges"/>
<path d="M785 14 L797 1.8" stroke="#404040" stroke-width="1.1"/>
<path d="M811.5 11.5 L823 1.5 M814.5 14 L826 4.5 M814 9 l2 4 M817 6.5 l2 4.5 M820 4 l2 4.5 M823 0.5 l1.5 5" stroke="#404040" stroke-width="1"/>
<text x="822.7" y="16" font-size="6.8" fill="#202020" text-anchor="start" font-weight="normal" textLength="4.2" lengthAdjust="spacingAndGlyphs">E</text>
<path d="M839.5 0.5 H853.5" stroke="#505050" stroke-width="1" stroke-dasharray="1 1" shape-rendering="crispEdges"/>
<path d="M839.5 3.5 H853.5" stroke="#505050" stroke-width="1" stroke-dasharray="1 1" shape-rendering="crispEdges"/>
<path d="M839.5 7.5 H853.5" stroke="#505050" stroke-width="1" stroke-dasharray="1 1" shape-rendering="crispEdges"/>
<path d="M839.5 11.5 H853.5" stroke="#505050" stroke-width="1" stroke-dasharray="1 1" shape-rendering="crispEdges"/>
<text x="850.2" y="16" font-size="6.8" fill="#202020" text-anchor="start" font-weight="normal" textLength="4" lengthAdjust="spacingAndGlyphs">F</text>
<text x="870.6" y="12" font-size="13" fill="#505050" text-anchor="start" font-weight="bold" textLength="8.4" lengthAdjust="spacingAndGlyphs">A</text>
<rect x="897" y="1.5" width="11.5" height="12" fill="none" stroke="#505050" stroke-width="1" stroke-dasharray="1 1" shape-rendering="crispEdges"/>
<text x="898.7" y="12" font-size="11.5" fill="#505050" text-anchor="start" font-weight="bold" textLength="8" lengthAdjust="spacingAndGlyphs">T</text>
<path d="M927.5 1.2 L930.5 4.5 H924.5Z M935 13.8 L932 10.5 H938Z" fill="#404040"/><path d="M927 7.5 l2.3 2.3 l4.4 -5.3" stroke="#404040" stroke-width="1.4" fill="none"/>
<path d="M944.8 6 L950.2 6 L947.5 9Z" fill="#000" shape-rendering="auto"/>
<text x="971.8" y="11.2" font-size="9.8" fill="#404040" text-anchor="start" font-weight="normal" textLength="12.2" lengthAdjust="spacingAndGlyphs">M1</text>
<text x="999.6" y="11.2" font-size="9.8" fill="#404040" text-anchor="start" font-weight="normal" textLength="12.7" lengthAdjust="spacingAndGlyphs">M5</text>
<text x="1025" y="11.2" font-size="9.8" fill="#404040" text-anchor="start" font-weight="normal" textLength="18" lengthAdjust="spacingAndGlyphs">M15</text>
<text x="1053.4" y="11.2" font-size="9.8" fill="#404040" text-anchor="start" font-weight="normal" textLength="18.3" lengthAdjust="spacingAndGlyphs">M30</text>
<text x="1084" y="11.2" font-size="9.8" fill="#404040" text-anchor="start" font-weight="normal" textLength="12.5" lengthAdjust="spacingAndGlyphs">H1</text>
<text x="1111" y="11.2" font-size="9.8" fill="#404040" text-anchor="start" font-weight="normal" textLength="13" lengthAdjust="spacingAndGlyphs">H4</text>
<text x="1140.3" y="11.2" font-size="9.8" fill="#404040" text-anchor="start" font-weight="normal" textLength="12.2" lengthAdjust="spacingAndGlyphs">D1</text>
<text x="1168" y="11.2" font-size="9.8" fill="#404040" text-anchor="start" font-weight="normal" textLength="15" lengthAdjust="spacingAndGlyphs">W1</text>
<text x="1194.2" y="11.2" font-size="9.8" fill="#404040" text-anchor="start" font-weight="normal" textLength="15.8" lengthAdjust="spacingAndGlyphs">MN</text>
<circle cx="1688" cy="4.5" r="3.6" fill="#fff" stroke="#2a62d0" stroke-width="1.6"/><path d="M1685.3 7.5 L1680.5 12.3" stroke="#2a62d0" stroke-width="2.2" stroke-linecap="round"/>
<path d="M1716 7 a5.2 4.6 0 1 1 5 2.6 l0.5 2 l-2.5 -1.8z" fill="#e8e8e8" stroke="#a0a0a0" stroke-width="0.9"/>
<path d="M1707.5 9.5 a4.6 4 0 1 1 3.2 2.6 l-2.2 1.8 l0.3 -2.3z" fill="#f4f4f4" stroke="#909090" stroke-width="0.9"/>
<text x="75" y="10.3" font-size="12" fill="#000" text-anchor="start" font-weight="normal" textLength="36" lengthAdjust="spacingAndGlyphs" style="font-family:'Liberation Sans','Noto Sans CJK SC',sans-serif">新订单</text>
<text x="227.3" y="10" font-size="11.7" fill="#000" text-anchor="start" font-weight="normal" textLength="46.8" lengthAdjust="spacingAndGlyphs" style="font-family:'Liberation Sans','Noto Sans CJK SC',sans-serif">自动交易</text>
</g>
</svg>
</body></html>
